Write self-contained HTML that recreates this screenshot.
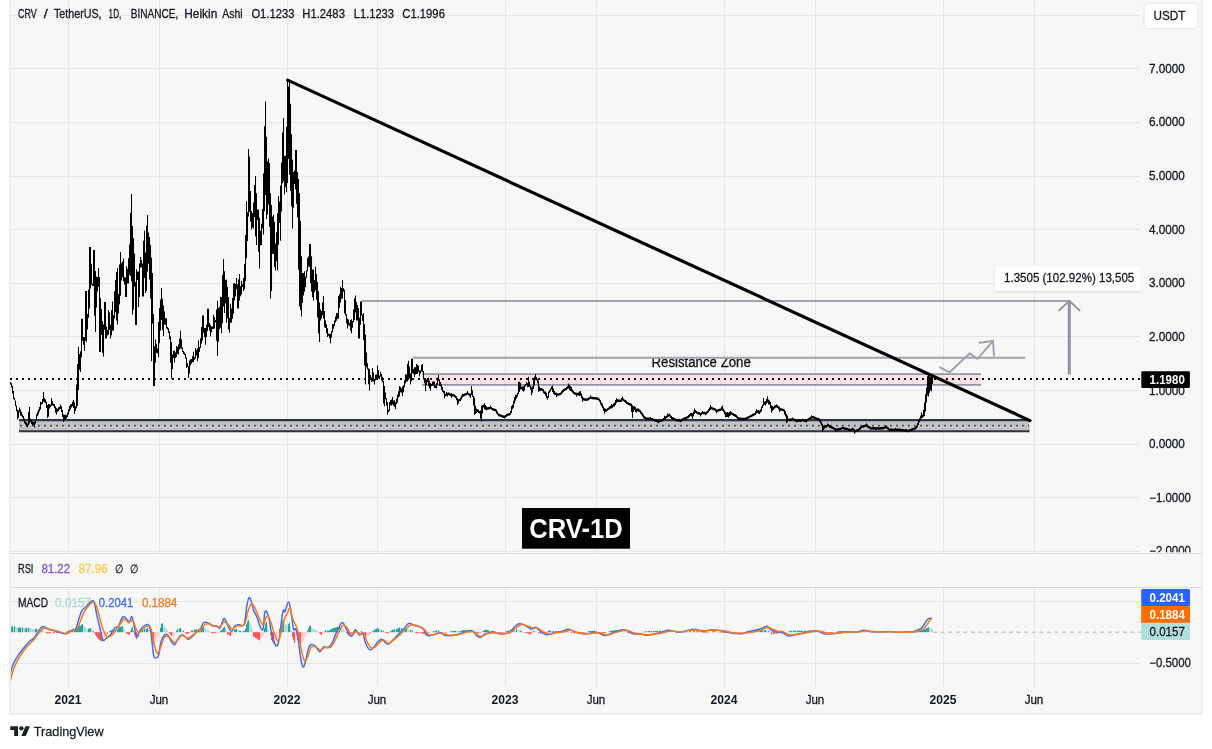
<!DOCTYPE html>
<html><head><meta charset="utf-8"><title>CRV / TetherUS chart</title>
<style>
html,body{margin:0;padding:0;background:#fff;}
body{width:1212px;height:749px;overflow:hidden;font-family:"Liberation Sans",sans-serif;}
svg text{font-family:"Liberation Sans",sans-serif;}
</style></head><body>
<svg width="1212" height="749" viewBox="0 0 1212 749" style="display:block;will-change:transform"><rect x="0" y="0" width="1212" height="749" fill="#ffffff"/>
<rect x="10" y="0" width="1192" height="714" fill="#f7f7f7"/>
<line x1="68.5" y1="0" x2="68.5" y2="553" stroke="#e7e7e7" stroke-width="1"/>
<line x1="68.5" y1="588" x2="68.5" y2="686" stroke="#e7e7e7" stroke-width="1"/>
<line x1="159.5" y1="0" x2="159.5" y2="553" stroke="#e7e7e7" stroke-width="1"/>
<line x1="159.5" y1="588" x2="159.5" y2="686" stroke="#e7e7e7" stroke-width="1"/>
<line x1="287.5" y1="0" x2="287.5" y2="553" stroke="#e7e7e7" stroke-width="1"/>
<line x1="287.5" y1="588" x2="287.5" y2="686" stroke="#e7e7e7" stroke-width="1"/>
<line x1="377.5" y1="0" x2="377.5" y2="553" stroke="#e7e7e7" stroke-width="1"/>
<line x1="377.5" y1="588" x2="377.5" y2="686" stroke="#e7e7e7" stroke-width="1"/>
<line x1="505.5" y1="0" x2="505.5" y2="553" stroke="#e7e7e7" stroke-width="1"/>
<line x1="505.5" y1="588" x2="505.5" y2="686" stroke="#e7e7e7" stroke-width="1"/>
<line x1="596.5" y1="0" x2="596.5" y2="553" stroke="#e7e7e7" stroke-width="1"/>
<line x1="596.5" y1="588" x2="596.5" y2="686" stroke="#e7e7e7" stroke-width="1"/>
<line x1="724.5" y1="0" x2="724.5" y2="553" stroke="#e7e7e7" stroke-width="1"/>
<line x1="724.5" y1="588" x2="724.5" y2="686" stroke="#e7e7e7" stroke-width="1"/>
<line x1="815.5" y1="0" x2="815.5" y2="553" stroke="#e7e7e7" stroke-width="1"/>
<line x1="815.5" y1="588" x2="815.5" y2="686" stroke="#e7e7e7" stroke-width="1"/>
<line x1="943.5" y1="0" x2="943.5" y2="553" stroke="#e7e7e7" stroke-width="1"/>
<line x1="943.5" y1="588" x2="943.5" y2="686" stroke="#e7e7e7" stroke-width="1"/>
<line x1="1034.5" y1="0" x2="1034.5" y2="553" stroke="#e7e7e7" stroke-width="1"/>
<line x1="1034.5" y1="588" x2="1034.5" y2="686" stroke="#e7e7e7" stroke-width="1"/>
<line x1="10" y1="15.5" x2="1140" y2="15.5" stroke="#e7e7e7" stroke-width="1"/>
<line x1="10" y1="68.5" x2="1140" y2="68.5" stroke="#e7e7e7" stroke-width="1"/>
<line x1="10" y1="122.5" x2="1140" y2="122.5" stroke="#e7e7e7" stroke-width="1"/>
<line x1="10" y1="176.5" x2="1140" y2="176.5" stroke="#e7e7e7" stroke-width="1"/>
<line x1="10" y1="229.5" x2="1140" y2="229.5" stroke="#e7e7e7" stroke-width="1"/>
<line x1="10" y1="283.5" x2="1140" y2="283.5" stroke="#e7e7e7" stroke-width="1"/>
<line x1="10" y1="336.5" x2="1140" y2="336.5" stroke="#e7e7e7" stroke-width="1"/>
<line x1="10" y1="390.5" x2="1140" y2="390.5" stroke="#e7e7e7" stroke-width="1"/>
<line x1="10" y1="444.5" x2="1140" y2="444.5" stroke="#e7e7e7" stroke-width="1"/>
<line x1="10" y1="497.5" x2="1140" y2="497.5" stroke="#e7e7e7" stroke-width="1"/>
<line x1="10" y1="551.5" x2="1140" y2="551.5" stroke="#e7e7e7" stroke-width="1"/>
<line x1="10" y1="601.5" x2="1140" y2="601.5" stroke="#e7e7e7" stroke-width="1"/>
<line x1="10" y1="663.5" x2="1140" y2="663.5" stroke="#e7e7e7" stroke-width="1"/>
<line x1="10" y1="553.5" x2="1202" y2="553.5" stroke="#d6d8e2" stroke-width="1.2"/>
<line x1="10" y1="587.5" x2="1202" y2="587.5" stroke="#d6d8e2" stroke-width="1.2"/>
<line x1="10" y1="0" x2="10" y2="714" stroke="#ebecf2" stroke-width="1.6"/>
<line x1="1202" y1="0" x2="1202" y2="714.8" stroke="#ebecf2" stroke-width="1.8"/>
<line x1="9.2" y1="713.9" x2="1202.9" y2="713.9" stroke="#ebecf2" stroke-width="1.8"/>
<rect x="19" y="420" width="1010.5" height="11.5" fill="#c3c3c4"/>
<line x1="19" y1="420.1" x2="1029.5" y2="420.1" stroke="#2f3447" stroke-width="2.2"/>
<line x1="19" y1="431.3" x2="1029.5" y2="431.3" stroke="#2f3447" stroke-width="2"/>
<line x1="20" y1="425.6" x2="1029" y2="425.6" stroke="#4a4d5a" stroke-width="1.8" stroke-dasharray="1.8 4.2"/>
<rect x="422" y="374.2" width="559" height="10.6" fill="#fbe3e5"/>
<line x1="422" y1="374.2" x2="981" y2="374.2" stroke="#9395a6" stroke-width="1.8"/>
<line x1="422" y1="384.8" x2="981" y2="384.8" stroke="#9395a6" stroke-width="1.8"/>
<line x1="361.5" y1="300.9" x2="1070" y2="300.9" stroke="#a0a2b0" stroke-width="2"/>
<line x1="412.7" y1="357.8" x2="1025.3" y2="357.8" stroke="#a0a2b0" stroke-width="2"/>
<clipPath id="rz"><rect x="640" y="358.7" width="130" height="14"/></clipPath>
<text x="651.5" y="366.8" font-size="14" fill="#111" stroke="#111" stroke-width="0.28" font-weight="normal" text-anchor="start" font-family="Liberation Sans, sans-serif" clip-path="url(#rz)" textLength="99.3" lengthAdjust="spacingAndGlyphs">Resistance Zone</text>
<line x1="10" y1="379" x2="1141" y2="379" stroke="#0d0d0d" stroke-width="2" stroke-dasharray="2 4"/>
<polygon points="932.50,377.6 932.50,383.4" fill="#000" stroke="#000" stroke-width="0.25" stroke-linejoin="round"/>
<path d="M10.0 382.1h1.03V384.6h-1.03zM11.0 383.2h1.03V387.6h-1.03zM12.0 386.1h1.03V393.4h-1.03zM13.0 391.0h1.03V399.3h-1.03zM14.0 397.8h1.03V400.3h-1.03zM15.0 400.6h1.03V406.2h-1.03zM16.0 405.5h1.03V411.2h-1.03zM17.0 409.7h1.03V419.4h-1.03zM18.0 410.5h1.03V417.9h-1.03zM19.0 407.6h1.03V412.4h-1.03zM20.0 409.4h1.03V415.5h-1.03zM21.0 412.0h1.03V416.3h-1.03zM22.0 414.4h1.03V417.8h-1.03zM23.0 415.9h1.03V420.5h-1.03zM24.0 418.6h1.03V423.5h-1.03zM25.0 421.4h1.03V424.7h-1.03zM26.0 422.3h1.03V426.4h-1.03zM27.0 423.3h1.03V427.4h-1.03zM28.0 411.8h1.03V425.3h-1.03zM29.0 407.1h1.03V423.4h-1.03zM30.0 418.4h1.03V421.8h-1.03zM31.0 419.9h1.03V424.0h-1.03zM32.0 421.2h1.03V425.2h-1.03zM33.0 421.9h1.03V424.9h-1.03zM34.0 421.6h1.03V427.4h-1.03zM35.0 421.1h1.03V423.6h-1.03zM36.0 414.3h1.03V420.8h-1.03zM37.0 411.8h1.03V416.3h-1.03zM38.0 409.4h1.03V414.6h-1.03zM39.0 406.9h1.03V411.6h-1.03zM40.0 401.8h1.03V409.6h-1.03zM41.0 402.3h1.03V404.8h-1.03zM42.0 399.0h1.03V404.0h-1.03zM43.0 392.1h1.03V401.9h-1.03zM44.0 398.1h1.03V402.3h-1.03zM45.0 399.6h1.03V403.2h-1.03zM46.0 401.7h1.03V408.1h-1.03zM47.0 405.0h1.03V417.9h-1.03zM48.0 404.1h1.03V416.7h-1.03zM49.0 404.1h1.03V408.5h-1.03zM50.0 404.8h1.03V407.3h-1.03zM51.0 398.1h1.03V405.9h-1.03zM52.0 401.1h1.03V405.3h-1.03zM53.0 403.7h1.03V406.2h-1.03zM54.0 404.1h1.03V408.3h-1.03zM55.0 406.4h1.03V412.8h-1.03zM56.0 408.2h1.03V414.4h-1.03zM57.0 408.5h1.03V411.9h-1.03zM58.0 407.3h1.03V410.9h-1.03zM59.0 407.0h1.03V409.5h-1.03zM60.0 404.6h1.03V409.1h-1.03zM61.0 406.2h1.03V412.1h-1.03zM62.0 409.9h1.03V417.0h-1.03zM63.0 414.6h1.03V421.9h-1.03zM64.0 415.0h1.03V419.9h-1.03zM65.0 414.6h1.03V419.6h-1.03zM66.0 415.2h1.03V418.6h-1.03zM67.0 412.4h1.03V417.1h-1.03zM68.0 409.3h1.03V414.6h-1.03zM69.0 406.0h1.03V411.6h-1.03zM70.0 404.5h1.03V409.4h-1.03zM71.0 403.9h1.03V407.4h-1.03zM72.0 401.8h1.03V406.3h-1.03zM73.0 400.1h1.03V407.9h-1.03zM74.0 402.5h1.03V413.9h-1.03zM75.0 406.2h1.03V410.9h-1.03zM76.0 384.4h1.03V408.2h-1.03zM77.0 364.0h1.03V405.7h-1.03zM78.0 346.8h1.03V390.1h-1.03zM79.0 354.1h1.03V369.8h-1.03zM80.0 351.2h1.03V372.0h-1.03zM81.0 318.8h1.03V357.2h-1.03zM82.0 318.8h1.03V340.7h-1.03zM83.0 336.9h1.03V344.8h-1.03zM84.0 337.3h1.03V350.9h-1.03zM85.0 291.1h1.03V340.7h-1.03zM86.0 291.1h1.03V341.7h-1.03zM87.0 314.0h1.03V329.6h-1.03zM88.0 289.4h1.03V317.7h-1.03zM89.0 247.1h1.03V308.4h-1.03zM90.0 247.1h1.03V288.5h-1.03zM91.0 263.7h1.03V284.6h-1.03zM92.0 283.5h1.03V286.1h-1.03zM93.0 250.1h1.03V286.1h-1.03zM94.0 250.1h1.03V315.8h-1.03zM95.0 271.0h1.03V331.9h-1.03zM96.0 276.6h1.03V307.6h-1.03zM97.0 276.9h1.03V291.5h-1.03zM98.0 268.1h1.03V286.7h-1.03zM99.0 277.0h1.03V351.9h-1.03zM100.0 298.1h1.03V351.9h-1.03zM101.0 309.0h1.03V335.1h-1.03zM102.0 320.9h1.03V352.8h-1.03zM103.0 324.4h1.03V356.8h-1.03zM104.0 302.1h1.03V329.7h-1.03zM105.0 302.1h1.03V338.7h-1.03zM106.0 326.7h1.03V338.3h-1.03zM107.0 330.0h1.03V335.6h-1.03zM108.0 310.1h1.03V334.4h-1.03zM109.0 312.4h1.03V330.1h-1.03zM110.0 324.7h1.03V338.6h-1.03zM111.0 310.2h1.03V335.3h-1.03zM112.0 301.6h1.03V330.7h-1.03zM113.0 315.3h1.03V330.6h-1.03zM114.0 291.2h1.03V318.6h-1.03zM115.0 280.1h1.03V312.3h-1.03zM116.0 272.1h1.03V320.5h-1.03zM117.0 268.1h1.03V324.6h-1.03zM118.0 294.1h1.03V313.5h-1.03zM119.0 264.4h1.03V304.5h-1.03zM120.0 252.1h1.03V295.7h-1.03zM121.0 263.3h1.03V280.4h-1.03zM122.0 261.6h1.03V277.3h-1.03zM123.0 258.5h1.03V281.3h-1.03zM124.0 277.3h1.03V284.4h-1.03zM125.0 277.2h1.03V296.9h-1.03zM126.0 266.3h1.03V296.9h-1.03zM127.0 268.8h1.03V283.4h-1.03zM128.0 258.3h1.03V283.4h-1.03zM129.0 244.4h1.03V274.7h-1.03zM130.0 212.7h1.03V275.9h-1.03zM131.0 194.1h1.03V281.3h-1.03zM132.0 226.1h1.03V314.6h-1.03zM133.0 238.2h1.03V309.8h-1.03zM134.0 253.6h1.03V286.6h-1.03zM135.0 281.9h1.03V324.9h-1.03zM136.0 269.3h1.03V324.9h-1.03zM137.0 271.7h1.03V279.9h-1.03zM138.0 271.6h1.03V307.0h-1.03zM139.0 263.4h1.03V297.0h-1.03zM140.0 256.9h1.03V267.4h-1.03zM141.0 260.0h1.03V267.2h-1.03zM142.0 263.4h1.03V296.6h-1.03zM143.0 240.8h1.03V296.6h-1.03zM144.0 230.8h1.03V278.0h-1.03zM145.0 252.4h1.03V292.9h-1.03zM146.0 225.8h1.03V291.0h-1.03zM147.0 215.1h1.03V271.6h-1.03zM148.0 232.4h1.03V263.7h-1.03zM149.0 237.0h1.03V279.6h-1.03zM150.0 244.7h1.03V298.5h-1.03zM151.0 257.6h1.03V361.3h-1.03zM152.0 273.1h1.03V323.4h-1.03zM153.0 313.9h1.03V385.9h-1.03zM154.0 346.2h1.03V385.9h-1.03zM155.0 339.6h1.03V362.7h-1.03zM156.0 343.7h1.03V352.8h-1.03zM157.0 348.4h1.03V353.3h-1.03zM158.0 321.9h1.03V357.3h-1.03zM159.0 307.9h1.03V343.2h-1.03zM160.0 299.5h1.03V330.5h-1.03zM161.0 288.1h1.03V320.1h-1.03zM162.0 298.7h1.03V330.0h-1.03zM163.0 305.4h1.03V335.9h-1.03zM164.0 311.6h1.03V324.8h-1.03zM165.0 318.1h1.03V324.8h-1.03zM166.0 318.6h1.03V328.4h-1.03zM167.0 327.1h1.03V329.6h-1.03zM168.0 328.2h1.03V332.9h-1.03zM169.0 331.2h1.03V339.3h-1.03zM170.0 336.6h1.03V362.7h-1.03zM171.0 342.0h1.03V378.8h-1.03zM172.0 354.5h1.03V369.1h-1.03zM173.0 350.9h1.03V358.1h-1.03zM174.0 350.5h1.03V362.6h-1.03zM175.0 352.5h1.03V358.0h-1.03zM176.0 346.0h1.03V356.9h-1.03zM177.0 347.0h1.03V353.7h-1.03zM178.0 344.6h1.03V354.6h-1.03zM179.0 338.5h1.03V349.5h-1.03zM180.0 330.8h1.03V348.5h-1.03zM181.0 339.5h1.03V348.7h-1.03zM182.0 347.2h1.03V351.9h-1.03zM183.0 350.9h1.03V354.0h-1.03zM184.0 352.4h1.03V354.9h-1.03zM185.0 353.9h1.03V358.4h-1.03zM186.0 357.5h1.03V368.0h-1.03zM187.0 363.2h1.03V367.1h-1.03zM188.0 366.1h1.03V377.9h-1.03zM189.0 360.6h1.03V373.8h-1.03zM190.0 359.2h1.03V365.2h-1.03zM191.0 358.9h1.03V363.6h-1.03zM192.0 356.3h1.03V362.3h-1.03zM193.0 351.8h1.03V361.9h-1.03zM194.0 357.2h1.03V359.7h-1.03zM195.0 348.1h1.03V358.8h-1.03zM196.0 350.0h1.03V355.4h-1.03zM197.0 348.3h1.03V361.3h-1.03zM198.0 340.4h1.03V358.0h-1.03zM199.0 347.0h1.03V351.9h-1.03zM200.0 338.3h1.03V348.0h-1.03zM201.0 327.0h1.03V343.4h-1.03zM202.0 315.4h1.03V340.6h-1.03zM203.0 315.4h1.03V332.7h-1.03zM204.0 328.1h1.03V337.3h-1.03zM205.0 328.1h1.03V344.8h-1.03zM206.0 324.7h1.03V336.9h-1.03zM207.0 308.8h1.03V330.9h-1.03zM208.0 308.8h1.03V327.0h-1.03zM209.0 323.0h1.03V330.8h-1.03zM210.0 325.1h1.03V336.6h-1.03zM211.0 326.6h1.03V332.5h-1.03zM212.0 326.5h1.03V329.0h-1.03zM213.0 314.8h1.03V328.9h-1.03zM214.0 316.9h1.03V328.5h-1.03zM215.0 320.0h1.03V322.5h-1.03zM216.0 309.6h1.03V340.7h-1.03zM217.0 300.8h1.03V355.9h-1.03zM218.0 308.0h1.03V341.7h-1.03zM219.0 306.7h1.03V329.2h-1.03zM220.0 296.7h1.03V327.8h-1.03zM221.0 297.1h1.03V333.3h-1.03zM222.0 275.1h1.03V323.3h-1.03zM223.0 258.9h1.03V306.6h-1.03zM224.0 271.3h1.03V313.0h-1.03zM225.0 280.0h1.03V303.5h-1.03zM226.0 279.4h1.03V322.7h-1.03zM227.0 287.0h1.03V318.5h-1.03zM228.0 297.0h1.03V329.6h-1.03zM229.0 318.0h1.03V332.6h-1.03zM230.0 303.8h1.03V322.7h-1.03zM231.0 308.4h1.03V322.6h-1.03zM232.0 297.9h1.03V318.7h-1.03zM233.0 283.5h1.03V313.6h-1.03zM234.0 283.0h1.03V300.6h-1.03zM235.0 283.9h1.03V296.2h-1.03zM236.0 278.1h1.03V289.3h-1.03zM237.0 284.3h1.03V308.6h-1.03zM238.0 279.3h1.03V308.6h-1.03zM239.0 274.1h1.03V300.6h-1.03zM240.0 286.2h1.03V296.3h-1.03zM241.0 280.8h1.03V294.4h-1.03zM242.0 284.2h1.03V287.1h-1.03zM243.0 277.9h1.03V291.1h-1.03zM244.0 264.1h1.03V289.3h-1.03zM245.0 235.1h1.03V281.0h-1.03zM246.0 201.2h1.03V258.2h-1.03zM247.0 212.2h1.03V241.1h-1.03zM248.0 148.9h1.03V216.6h-1.03zM249.0 156.5h1.03V212.0h-1.03zM250.0 191.0h1.03V221.6h-1.03zM251.0 211.1h1.03V229.6h-1.03zM252.0 213.1h1.03V227.6h-1.03zM253.0 202.4h1.03V228.6h-1.03zM254.0 185.1h1.03V217.1h-1.03zM255.0 176.1h1.03V236.5h-1.03zM256.0 193.2h1.03V244.9h-1.03zM257.0 209.4h1.03V220.1h-1.03zM258.0 209.4h1.03V251.7h-1.03zM259.0 217.7h1.03V268.6h-1.03zM260.0 230.7h1.03V245.4h-1.03zM261.0 223.8h1.03V244.9h-1.03zM262.0 209.0h1.03V228.6h-1.03zM263.0 173.6h1.03V234.4h-1.03zM264.0 126.2h1.03V211.3h-1.03zM265.0 101.5h1.03V194.9h-1.03zM266.0 136.8h1.03V218.9h-1.03zM267.0 161.2h1.03V214.4h-1.03zM268.0 158.5h1.03V204.4h-1.03zM269.0 163.0h1.03V226.7h-1.03zM270.0 193.2h1.03V298.6h-1.03zM271.0 205.0h1.03V291.0h-1.03zM272.0 216.6h1.03V253.8h-1.03zM273.0 214.8h1.03V254.1h-1.03zM274.0 221.8h1.03V266.9h-1.03zM275.0 243.4h1.03V270.6h-1.03zM276.0 232.2h1.03V261.2h-1.03zM277.0 213.3h1.03V270.6h-1.03zM278.0 195.9h1.03V244.8h-1.03zM279.0 201.6h1.03V222.9h-1.03zM280.0 185.5h1.03V240.8h-1.03zM281.0 162.4h1.03V211.6h-1.03zM282.0 132.5h1.03V183.2h-1.03zM283.0 118.0h1.03V181.3h-1.03zM284.0 155.7h1.03V194.6h-1.03zM285.0 155.7h1.03V186.9h-1.03zM286.0 126.7h1.03V192.2h-1.03zM287.0 80.0h1.03V182.9h-1.03zM288.0 86.6h1.03V159.1h-1.03zM289.0 80.0h1.03V174.8h-1.03zM290.0 103.7h1.03V190.9h-1.03zM291.0 134.3h1.03V206.6h-1.03zM292.0 159.8h1.03V228.8h-1.03zM293.0 172.0h1.03V207.8h-1.03zM294.0 170.5h1.03V183.9h-1.03zM295.0 150.1h1.03V189.6h-1.03zM296.0 150.1h1.03V203.7h-1.03zM297.0 172.3h1.03V217.5h-1.03zM298.0 179.0h1.03V269.7h-1.03zM299.0 193.2h1.03V306.6h-1.03zM300.0 221.1h1.03V310.0h-1.03zM301.0 256.2h1.03V316.6h-1.03zM302.0 273.0h1.03V303.0h-1.03zM303.0 273.0h1.03V295.4h-1.03zM304.0 271.2h1.03V291.8h-1.03zM305.0 276.7h1.03V287.2h-1.03zM306.0 270.2h1.03V277.7h-1.03zM307.0 257.9h1.03V271.2h-1.03zM308.0 256.4h1.03V266.5h-1.03zM309.0 244.1h1.03V267.0h-1.03zM310.0 244.1h1.03V283.1h-1.03zM311.0 256.3h1.03V291.5h-1.03zM312.0 269.6h1.03V297.3h-1.03zM313.0 269.6h1.03V300.6h-1.03zM314.0 280.1h1.03V292.2h-1.03zM315.0 266.8h1.03V290.3h-1.03zM316.0 273.9h1.03V299.7h-1.03zM317.0 282.1h1.03V317.6h-1.03zM318.0 291.2h1.03V333.6h-1.03zM319.0 302.6h1.03V341.9h-1.03zM320.0 309.6h1.03V320.5h-1.03zM321.0 310.9h1.03V318.5h-1.03zM322.0 302.5h1.03V315.2h-1.03zM323.0 296.1h1.03V318.6h-1.03zM324.0 311.0h1.03V327.2h-1.03zM325.0 320.2h1.03V328.0h-1.03zM326.0 323.9h1.03V333.1h-1.03zM327.0 328.3h1.03V337.0h-1.03zM328.0 333.4h1.03V335.9h-1.03zM329.0 333.7h1.03V338.3h-1.03zM330.0 333.7h1.03V343.3h-1.03zM331.0 331.0h1.03V337.6h-1.03zM332.0 324.1h1.03V332.3h-1.03zM333.0 323.9h1.03V328.7h-1.03zM334.0 320.5h1.03V326.3h-1.03zM335.0 316.5h1.03V322.5h-1.03zM336.0 312.9h1.03V320.7h-1.03zM337.0 312.9h1.03V318.8h-1.03zM338.0 295.9h1.03V318.6h-1.03zM339.0 293.9h1.03V307.8h-1.03zM340.0 286.9h1.03V302.5h-1.03zM341.0 288.1h1.03V298.7h-1.03zM342.0 280.1h1.03V298.7h-1.03zM343.0 288.2h1.03V291.5h-1.03zM344.0 289.8h1.03V313.6h-1.03zM345.0 300.3h1.03V315.3h-1.03zM346.0 314.3h1.03V323.4h-1.03zM347.0 318.8h1.03V328.6h-1.03zM348.0 319.6h1.03V325.3h-1.03zM349.0 322.7h1.03V326.1h-1.03zM350.0 319.9h1.03V330.8h-1.03zM351.0 319.3h1.03V333.3h-1.03zM352.0 320.9h1.03V327.8h-1.03zM353.0 309.6h1.03V321.9h-1.03zM354.0 298.6h1.03V319.9h-1.03zM355.0 295.4h1.03V312.6h-1.03zM356.0 301.9h1.03V320.6h-1.03zM357.0 305.1h1.03V320.6h-1.03zM358.0 308.1h1.03V338.6h-1.03zM359.0 317.8h1.03V338.6h-1.03zM360.0 301.4h1.03V324.8h-1.03zM361.0 301.4h1.03V315.5h-1.03zM362.0 314.5h1.03V320.9h-1.03zM363.0 312.9h1.03V339.9h-1.03zM364.0 324.3h1.03V365.6h-1.03zM365.0 334.5h1.03V384.6h-1.03zM366.0 352.5h1.03V367.3h-1.03zM367.0 363.2h1.03V369.5h-1.03zM368.0 368.3h1.03V384.3h-1.03zM369.0 369.1h1.03V390.6h-1.03zM370.0 375.0h1.03V378.4h-1.03zM371.0 377.4h1.03V381.9h-1.03zM372.0 368.1h1.03V381.2h-1.03zM373.0 372.5h1.03V381.6h-1.03zM374.0 379.1h1.03V384.6h-1.03zM375.0 374.8h1.03V380.3h-1.03zM376.0 374.4h1.03V378.4h-1.03zM377.0 365.4h1.03V378.2h-1.03zM378.0 369.9h1.03V378.6h-1.03zM379.0 375.4h1.03V379.2h-1.03zM380.0 372.1h1.03V376.4h-1.03zM381.0 374.0h1.03V380.4h-1.03zM382.0 376.7h1.03V382.3h-1.03zM383.0 380.9h1.03V403.5h-1.03zM384.0 386.1h1.03V406.2h-1.03zM385.0 392.6h1.03V399.3h-1.03zM386.0 398.3h1.03V405.4h-1.03zM387.0 402.0h1.03V414.8h-1.03zM388.0 409.7h1.03V412.2h-1.03zM389.0 402.1h1.03V411.1h-1.03zM390.0 400.2h1.03V405.2h-1.03zM391.0 399.6h1.03V405.7h-1.03zM392.0 397.0h1.03V404.6h-1.03zM393.0 400.6h1.03V405.7h-1.03zM394.0 400.3h1.03V407.0h-1.03zM395.0 402.2h1.03V409.3h-1.03zM396.0 398.8h1.03V403.9h-1.03zM397.0 394.4h1.03V402.6h-1.03zM398.0 391.1h1.03V397.5h-1.03zM399.0 386.1h1.03V396.6h-1.03zM400.0 387.1h1.03V392.3h-1.03zM401.0 388.6h1.03V392.7h-1.03zM402.0 386.6h1.03V395.9h-1.03zM403.0 385.3h1.03V392.3h-1.03zM404.0 380.2h1.03V387.2h-1.03zM405.0 374.6h1.03V383.4h-1.03zM406.0 374.6h1.03V381.5h-1.03zM407.0 363.7h1.03V381.5h-1.03zM408.0 360.8h1.03V379.9h-1.03zM409.0 366.4h1.03V378.5h-1.03zM410.0 373.6h1.03V384.6h-1.03zM411.0 358.8h1.03V381.2h-1.03zM412.0 358.8h1.03V373.6h-1.03zM413.0 368.9h1.03V373.8h-1.03zM414.0 367.2h1.03V377.3h-1.03zM415.0 367.2h1.03V374.5h-1.03zM416.0 364.1h1.03V374.0h-1.03zM417.0 364.8h1.03V373.9h-1.03zM418.0 365.8h1.03V371.8h-1.03zM419.0 370.3h1.03V376.6h-1.03zM420.0 370.5h1.03V373.7h-1.03zM421.0 365.1h1.03V371.6h-1.03zM422.0 364.1h1.03V371.9h-1.03zM423.0 370.9h1.03V379.4h-1.03zM424.0 378.2h1.03V383.3h-1.03zM425.0 379.7h1.03V391.3h-1.03zM426.0 379.5h1.03V385.2h-1.03zM427.0 378.1h1.03V382.1h-1.03zM428.0 377.4h1.03V386.0h-1.03zM429.0 380.5h1.03V388.3h-1.03zM430.0 383.3h1.03V390.6h-1.03zM431.0 383.7h1.03V386.2h-1.03zM432.0 381.4h1.03V385.7h-1.03zM433.0 381.6h1.03V385.7h-1.03zM434.0 381.6h1.03V387.9h-1.03zM435.0 385.2h1.03V387.7h-1.03zM436.0 382.9h1.03V388.6h-1.03zM437.0 377.4h1.03V385.0h-1.03zM438.0 375.1h1.03V381.1h-1.03zM439.0 379.2h1.03V385.8h-1.03zM440.0 382.1h1.03V386.5h-1.03zM441.0 384.4h1.03V389.9h-1.03zM442.0 386.9h1.03V391.7h-1.03zM443.0 390.4h1.03V393.3h-1.03zM444.0 391.1h1.03V398.6h-1.03zM445.0 393.7h1.03V396.3h-1.03zM446.0 392.1h1.03V395.9h-1.03zM447.0 392.7h1.03V396.5h-1.03zM448.0 392.5h1.03V395.0h-1.03zM449.0 392.7h1.03V395.7h-1.03zM450.0 393.5h1.03V396.0h-1.03zM451.0 393.1h1.03V397.8h-1.03zM452.0 394.0h1.03V396.5h-1.03zM453.0 394.0h1.03V396.5h-1.03zM454.0 394.4h1.03V397.3h-1.03zM455.0 395.4h1.03V398.1h-1.03zM456.0 396.2h1.03V400.2h-1.03zM457.0 398.0h1.03V405.1h-1.03zM458.0 399.2h1.03V403.4h-1.03zM459.0 398.8h1.03V401.3h-1.03zM460.0 397.5h1.03V400.9h-1.03zM461.0 395.6h1.03V399.4h-1.03zM462.0 393.8h1.03V397.5h-1.03zM463.0 394.1h1.03V396.6h-1.03zM464.0 393.6h1.03V396.2h-1.03zM465.0 393.1h1.03V395.6h-1.03zM466.0 392.8h1.03V395.3h-1.03zM467.0 391.0h1.03V394.8h-1.03zM468.0 392.8h1.03V395.3h-1.03zM469.0 393.4h1.03V396.4h-1.03zM470.0 393.4h1.03V397.8h-1.03zM471.0 386.1h1.03V395.1h-1.03zM472.0 390.3h1.03V397.0h-1.03zM473.0 396.0h1.03V405.4h-1.03zM474.0 397.5h1.03V414.8h-1.03zM475.0 405.8h1.03V414.0h-1.03zM476.0 408.4h1.03V413.0h-1.03zM477.0 409.2h1.03V411.7h-1.03zM478.0 409.6h1.03V412.9h-1.03zM479.0 411.0h1.03V413.5h-1.03zM480.0 410.4h1.03V418.6h-1.03zM481.0 405.7h1.03V421.3h-1.03zM482.0 405.3h1.03V413.4h-1.03zM483.0 404.4h1.03V407.5h-1.03zM484.0 403.0h1.03V409.4h-1.03zM485.0 405.1h1.03V409.7h-1.03zM486.0 406.2h1.03V410.2h-1.03zM487.0 407.2h1.03V409.7h-1.03zM488.0 407.0h1.03V409.5h-1.03zM489.0 406.9h1.03V409.4h-1.03zM490.0 405.6h1.03V409.1h-1.03zM491.0 406.9h1.03V409.8h-1.03zM492.0 407.9h1.03V410.4h-1.03zM493.0 408.2h1.03V410.7h-1.03zM494.0 408.5h1.03V411.0h-1.03zM495.0 409.0h1.03V411.5h-1.03zM496.0 409.6h1.03V413.5h-1.03zM497.0 411.6h1.03V415.1h-1.03zM498.0 413.2h1.03V416.2h-1.03zM499.0 414.1h1.03V416.6h-1.03zM500.0 414.3h1.03V416.8h-1.03zM501.0 414.8h1.03V417.3h-1.03zM502.0 415.0h1.03V417.5h-1.03zM503.0 415.4h1.03V417.9h-1.03zM504.0 415.4h1.03V418.4h-1.03zM505.0 414.9h1.03V417.4h-1.03zM506.0 414.1h1.03V416.9h-1.03zM507.0 413.6h1.03V416.1h-1.03zM508.0 413.3h1.03V415.8h-1.03zM509.0 412.9h1.03V415.4h-1.03zM510.0 411.0h1.03V414.8h-1.03zM511.0 406.0h1.03V412.9h-1.03zM512.0 404.8h1.03V409.2h-1.03zM513.0 400.8h1.03V407.7h-1.03zM514.0 397.0h1.03V403.6h-1.03zM515.0 394.9h1.03V400.7h-1.03zM516.0 394.8h1.03V398.5h-1.03zM517.0 392.8h1.03V396.7h-1.03zM518.0 381.4h1.03V393.9h-1.03zM519.0 381.9h1.03V391.7h-1.03zM520.0 382.7h1.03V389.6h-1.03zM521.0 386.8h1.03V389.3h-1.03zM522.0 386.6h1.03V390.8h-1.03zM523.0 386.2h1.03V391.8h-1.03zM524.0 385.0h1.03V390.5h-1.03zM525.0 383.9h1.03V386.5h-1.03zM526.0 382.1h1.03V385.0h-1.03zM527.0 383.3h1.03V387.0h-1.03zM528.0 376.8h1.03V387.0h-1.03zM529.0 381.5h1.03V386.8h-1.03zM530.0 385.6h1.03V389.6h-1.03zM531.0 387.3h1.03V395.3h-1.03zM532.0 386.2h1.03V392.8h-1.03zM533.0 380.3h1.03V389.1h-1.03zM534.0 376.6h1.03V385.6h-1.03zM535.0 374.1h1.03V380.0h-1.03zM536.0 377.0h1.03V380.3h-1.03zM537.0 379.3h1.03V383.3h-1.03zM538.0 380.7h1.03V391.8h-1.03zM539.0 386.4h1.03V391.1h-1.03zM540.0 387.9h1.03V391.3h-1.03zM541.0 388.1h1.03V390.6h-1.03zM542.0 388.6h1.03V391.2h-1.03zM543.0 389.3h1.03V393.2h-1.03zM544.0 391.2h1.03V394.1h-1.03zM545.0 391.6h1.03V395.9h-1.03zM546.0 392.8h1.03V398.1h-1.03zM547.0 396.1h1.03V399.8h-1.03zM548.0 391.5h1.03V397.7h-1.03zM549.0 390.2h1.03V392.7h-1.03zM550.0 388.4h1.03V391.5h-1.03zM551.0 386.5h1.03V389.4h-1.03zM552.0 385.6h1.03V392.0h-1.03zM553.0 388.6h1.03V394.1h-1.03zM554.0 391.1h1.03V394.9h-1.03zM555.0 392.6h1.03V395.1h-1.03zM556.0 392.8h1.03V397.1h-1.03zM557.0 393.3h1.03V395.8h-1.03zM558.0 393.2h1.03V395.7h-1.03zM559.0 393.1h1.03V395.6h-1.03zM560.0 392.6h1.03V395.1h-1.03zM561.0 391.2h1.03V394.6h-1.03zM562.0 390.1h1.03V393.1h-1.03zM563.0 389.1h1.03V392.0h-1.03zM564.0 388.6h1.03V391.1h-1.03zM565.0 388.1h1.03V390.6h-1.03zM566.0 387.1h1.03V390.0h-1.03zM567.0 385.9h1.03V389.0h-1.03zM568.0 383.6h1.03V388.5h-1.03zM569.0 385.0h1.03V390.3h-1.03zM570.0 386.2h1.03V390.9h-1.03zM571.0 387.1h1.03V391.4h-1.03zM572.0 389.5h1.03V392.7h-1.03zM573.0 390.8h1.03V394.0h-1.03zM574.0 392.0h1.03V394.5h-1.03zM575.0 392.4h1.03V394.9h-1.03zM576.0 392.8h1.03V396.4h-1.03zM577.0 392.8h1.03V395.3h-1.03zM578.0 392.6h1.03V395.7h-1.03zM579.0 391.6h1.03V395.9h-1.03zM580.0 391.0h1.03V395.4h-1.03zM581.0 393.5h1.03V398.2h-1.03zM582.0 396.3h1.03V401.8h-1.03zM583.0 397.8h1.03V400.5h-1.03zM584.0 398.2h1.03V400.7h-1.03zM585.0 398.2h1.03V400.7h-1.03zM586.0 398.4h1.03V400.9h-1.03zM587.0 398.2h1.03V400.7h-1.03zM588.0 397.5h1.03V400.2h-1.03zM589.0 396.9h1.03V399.4h-1.03zM590.0 395.6h1.03V398.9h-1.03zM591.0 396.5h1.03V399.0h-1.03zM592.0 396.7h1.03V399.2h-1.03zM593.0 396.9h1.03V399.4h-1.03zM594.0 397.0h1.03V399.5h-1.03zM595.0 397.0h1.03V399.5h-1.03zM596.0 397.3h1.03V399.8h-1.03zM597.0 397.4h1.03V399.9h-1.03zM598.0 397.7h1.03V400.6h-1.03zM599.0 398.7h1.03V402.1h-1.03zM600.0 400.2h1.03V404.4h-1.03zM601.0 402.5h1.03V406.3h-1.03zM602.0 403.8h1.03V408.3h-1.03zM603.0 406.4h1.03V411.1h-1.03zM604.0 408.2h1.03V413.8h-1.03zM605.0 408.6h1.03V411.9h-1.03zM606.0 408.9h1.03V411.8h-1.03zM607.0 408.2h1.03V410.8h-1.03zM608.0 407.4h1.03V410.1h-1.03zM609.0 406.3h1.03V409.3h-1.03zM610.0 405.7h1.03V408.6h-1.03zM611.0 404.0h1.03V408.5h-1.03zM612.0 404.8h1.03V408.0h-1.03zM613.0 403.4h1.03V406.8h-1.03zM614.0 402.6h1.03V406.5h-1.03zM615.0 399.9h1.03V404.9h-1.03zM616.0 398.3h1.03V403.1h-1.03zM617.0 399.2h1.03V402.0h-1.03zM618.0 399.6h1.03V402.1h-1.03zM619.0 399.6h1.03V402.1h-1.03zM620.0 399.5h1.03V402.0h-1.03zM621.0 398.0h1.03V401.7h-1.03zM622.0 396.6h1.03V400.4h-1.03zM623.0 398.5h1.03V401.3h-1.03zM624.0 399.4h1.03V401.9h-1.03zM625.0 400.0h1.03V402.7h-1.03zM626.0 400.8h1.03V403.9h-1.03zM627.0 402.0h1.03V404.5h-1.03zM628.0 402.5h1.03V405.1h-1.03zM629.0 403.0h1.03V405.5h-1.03zM630.0 403.3h1.03V405.8h-1.03zM631.0 403.8h1.03V412.1h-1.03zM632.0 405.3h1.03V417.9h-1.03zM633.0 406.3h1.03V412.1h-1.03zM634.0 406.2h1.03V409.9h-1.03zM635.0 407.1h1.03V412.1h-1.03zM636.0 408.4h1.03V412.7h-1.03zM637.0 408.5h1.03V411.2h-1.03zM638.0 408.5h1.03V411.5h-1.03zM639.0 409.6h1.03V412.2h-1.03zM640.0 410.3h1.03V413.7h-1.03zM641.0 411.8h1.03V414.7h-1.03zM642.0 412.8h1.03V416.5h-1.03zM643.0 414.6h1.03V418.2h-1.03zM644.0 416.2h1.03V418.7h-1.03zM645.0 416.8h1.03V419.3h-1.03zM646.0 417.4h1.03V420.7h-1.03zM647.0 417.5h1.03V420.0h-1.03zM648.0 417.6h1.03V420.1h-1.03zM649.0 417.5h1.03V420.0h-1.03zM650.0 417.0h1.03V419.9h-1.03zM651.0 417.9h1.03V420.4h-1.03zM652.0 418.1h1.03V420.6h-1.03zM653.0 418.5h1.03V421.1h-1.03zM654.0 419.0h1.03V421.5h-1.03zM655.0 419.1h1.03V421.6h-1.03zM656.0 419.4h1.03V422.0h-1.03zM657.0 419.9h1.03V422.4h-1.03zM658.0 420.3h1.03V423.2h-1.03zM659.0 419.8h1.03V422.3h-1.03zM660.0 419.6h1.03V422.1h-1.03zM661.0 419.3h1.03V421.8h-1.03zM662.0 418.7h1.03V421.2h-1.03zM663.0 418.1h1.03V420.7h-1.03zM664.0 415.8h1.03V420.1h-1.03zM665.0 416.3h1.03V419.5h-1.03zM666.0 415.7h1.03V418.2h-1.03zM667.0 413.6h1.03V417.6h-1.03zM668.0 414.2h1.03V416.7h-1.03zM669.0 413.6h1.03V416.6h-1.03zM670.0 414.7h1.03V417.9h-1.03zM671.0 416.0h1.03V419.0h-1.03zM672.0 417.0h1.03V419.5h-1.03zM673.0 417.5h1.03V420.1h-1.03zM674.0 418.1h1.03V420.6h-1.03zM675.0 418.5h1.03V421.0h-1.03zM676.0 418.8h1.03V421.3h-1.03zM677.0 418.9h1.03V421.4h-1.03zM678.0 419.1h1.03V421.6h-1.03zM679.0 419.3h1.03V421.8h-1.03zM680.0 419.5h1.03V422.2h-1.03zM681.0 418.7h1.03V421.4h-1.03zM682.0 418.2h1.03V420.7h-1.03zM683.0 417.7h1.03V420.2h-1.03zM684.0 417.3h1.03V419.8h-1.03zM685.0 417.0h1.03V419.5h-1.03zM686.0 416.6h1.03V419.1h-1.03zM687.0 416.1h1.03V418.6h-1.03zM688.0 415.0h1.03V418.0h-1.03zM689.0 413.9h1.03V416.9h-1.03zM690.0 413.0h1.03V415.8h-1.03zM691.0 413.0h1.03V416.5h-1.03zM692.0 413.3h1.03V419.3h-1.03zM693.0 411.4h1.03V416.2h-1.03zM694.0 408.4h1.03V414.0h-1.03zM695.0 409.9h1.03V412.9h-1.03zM696.0 411.0h1.03V413.6h-1.03zM697.0 411.7h1.03V414.2h-1.03zM698.0 412.0h1.03V414.5h-1.03zM699.0 412.3h1.03V414.8h-1.03zM700.0 412.8h1.03V416.4h-1.03zM701.0 412.2h1.03V415.1h-1.03zM702.0 411.0h1.03V414.1h-1.03zM703.0 411.8h1.03V414.3h-1.03zM704.0 411.8h1.03V414.3h-1.03zM705.0 412.2h1.03V415.2h-1.03zM706.0 411.4h1.03V414.4h-1.03zM707.0 410.7h1.03V413.3h-1.03zM708.0 409.0h1.03V412.6h-1.03zM709.0 407.4h1.03V411.0h-1.03zM710.0 405.0h1.03V409.9h-1.03zM711.0 406.8h1.03V409.3h-1.03zM712.0 407.3h1.03V409.8h-1.03zM713.0 407.7h1.03V410.2h-1.03zM714.0 408.1h1.03V410.6h-1.03zM715.0 408.6h1.03V411.4h-1.03zM716.0 409.5h1.03V413.2h-1.03zM717.0 409.4h1.03V411.9h-1.03zM718.0 409.1h1.03V411.6h-1.03zM719.0 408.8h1.03V411.3h-1.03zM720.0 408.4h1.03V410.9h-1.03zM721.0 406.7h1.03V410.3h-1.03zM722.0 405.6h1.03V410.7h-1.03zM723.0 408.7h1.03V411.7h-1.03zM724.0 410.3h1.03V414.3h-1.03zM725.0 412.0h1.03V417.3h-1.03zM726.0 412.4h1.03V417.1h-1.03zM727.0 411.9h1.03V417.0h-1.03zM728.0 412.7h1.03V417.8h-1.03zM729.0 412.1h1.03V416.2h-1.03zM730.0 411.0h1.03V415.5h-1.03zM731.0 412.2h1.03V414.7h-1.03zM732.0 412.8h1.03V415.3h-1.03zM733.0 413.3h1.03V416.0h-1.03zM734.0 413.9h1.03V416.4h-1.03zM735.0 414.3h1.03V416.9h-1.03zM736.0 415.0h1.03V418.1h-1.03zM737.0 416.2h1.03V418.9h-1.03zM738.0 417.0h1.03V421.2h-1.03zM739.0 417.4h1.03V419.9h-1.03zM740.0 417.5h1.03V420.0h-1.03zM741.0 417.8h1.03V420.3h-1.03zM742.0 417.8h1.03V420.3h-1.03zM743.0 417.8h1.03V420.3h-1.03zM744.0 417.7h1.03V420.2h-1.03zM745.0 417.5h1.03V420.0h-1.03zM746.0 417.2h1.03V419.7h-1.03zM747.0 416.5h1.03V419.3h-1.03zM748.0 416.1h1.03V418.6h-1.03zM749.0 415.7h1.03V418.2h-1.03zM750.0 415.1h1.03V417.6h-1.03zM751.0 414.5h1.03V417.0h-1.03zM752.0 413.8h1.03V416.5h-1.03zM753.0 413.4h1.03V415.9h-1.03zM754.0 413.0h1.03V415.5h-1.03zM755.0 411.2h1.03V415.1h-1.03zM756.0 409.0h1.03V413.6h-1.03zM757.0 410.2h1.03V413.0h-1.03zM758.0 410.0h1.03V413.7h-1.03zM759.0 410.4h1.03V413.9h-1.03zM760.0 409.2h1.03V412.6h-1.03zM761.0 406.5h1.03V411.6h-1.03zM762.0 404.7h1.03V408.0h-1.03zM763.0 398.1h1.03V405.7h-1.03zM764.0 401.4h1.03V404.9h-1.03zM765.0 400.9h1.03V405.5h-1.03zM766.0 398.9h1.03V403.7h-1.03zM767.0 396.3h1.03V402.4h-1.03zM768.0 399.4h1.03V404.6h-1.03zM769.0 400.4h1.03V404.8h-1.03zM770.0 401.9h1.03V408.3h-1.03zM771.0 405.2h1.03V412.8h-1.03zM772.0 406.1h1.03V411.1h-1.03zM773.0 406.8h1.03V409.9h-1.03zM774.0 405.5h1.03V408.7h-1.03zM775.0 405.3h1.03V407.8h-1.03zM776.0 404.3h1.03V407.5h-1.03zM777.0 405.1h1.03V408.1h-1.03zM778.0 406.2h1.03V409.2h-1.03zM779.0 406.7h1.03V411.8h-1.03zM780.0 408.2h1.03V410.8h-1.03zM781.0 408.3h1.03V410.8h-1.03zM782.0 408.4h1.03V410.9h-1.03zM783.0 408.9h1.03V411.6h-1.03zM784.0 409.6h1.03V414.5h-1.03zM785.0 411.0h1.03V416.5h-1.03zM786.0 413.9h1.03V423.3h-1.03zM787.0 415.4h1.03V422.2h-1.03zM788.0 418.5h1.03V421.0h-1.03zM789.0 418.5h1.03V421.0h-1.03zM790.0 418.4h1.03V420.9h-1.03zM791.0 418.2h1.03V420.7h-1.03zM792.0 417.6h1.03V420.3h-1.03zM793.0 418.3h1.03V420.8h-1.03zM794.0 418.7h1.03V421.2h-1.03zM795.0 418.9h1.03V421.4h-1.03zM796.0 419.2h1.03V422.4h-1.03zM797.0 419.4h1.03V421.9h-1.03zM798.0 419.3h1.03V421.8h-1.03zM799.0 419.3h1.03V421.8h-1.03zM800.0 419.4h1.03V421.9h-1.03zM801.0 419.2h1.03V421.7h-1.03zM802.0 418.7h1.03V421.3h-1.03zM803.0 419.2h1.03V421.7h-1.03zM804.0 419.3h1.03V421.8h-1.03zM805.0 419.4h1.03V421.9h-1.03zM806.0 419.3h1.03V422.4h-1.03zM807.0 418.7h1.03V421.2h-1.03zM808.0 418.1h1.03V420.6h-1.03zM809.0 417.6h1.03V420.1h-1.03zM810.0 416.8h1.03V419.6h-1.03zM811.0 415.3h1.03V418.7h-1.03zM812.0 415.9h1.03V418.4h-1.03zM813.0 416.1h1.03V418.6h-1.03zM814.0 416.4h1.03V418.9h-1.03zM815.0 416.9h1.03V419.4h-1.03zM816.0 417.4h1.03V419.9h-1.03zM817.0 417.8h1.03V420.3h-1.03zM818.0 418.1h1.03V420.6h-1.03zM819.0 418.6h1.03V422.1h-1.03zM820.0 420.2h1.03V423.6h-1.03zM821.0 421.7h1.03V425.8h-1.03zM822.0 423.8h1.03V431.8h-1.03zM823.0 425.5h1.03V430.2h-1.03zM824.0 425.1h1.03V428.8h-1.03zM825.0 425.5h1.03V428.0h-1.03zM826.0 424.9h1.03V427.4h-1.03zM827.0 423.6h1.03V426.8h-1.03zM828.0 424.2h1.03V426.7h-1.03zM829.0 424.8h1.03V427.7h-1.03zM830.0 425.7h1.03V428.2h-1.03zM831.0 426.1h1.03V428.6h-1.03zM832.0 426.6h1.03V429.1h-1.03zM833.0 427.0h1.03V429.5h-1.03zM834.0 427.4h1.03V429.9h-1.03zM835.0 428.0h1.03V431.8h-1.03zM836.0 428.4h1.03V430.9h-1.03zM837.0 428.3h1.03V430.8h-1.03zM838.0 428.1h1.03V430.6h-1.03zM839.0 427.9h1.03V430.4h-1.03zM840.0 427.7h1.03V430.2h-1.03zM841.0 427.3h1.03V429.8h-1.03zM842.0 426.4h1.03V429.3h-1.03zM843.0 427.1h1.03V429.6h-1.03zM844.0 427.3h1.03V429.8h-1.03zM845.0 427.6h1.03V430.1h-1.03zM846.0 427.8h1.03V430.3h-1.03zM847.0 428.1h1.03V430.6h-1.03zM848.0 428.4h1.03V430.9h-1.03zM849.0 428.6h1.03V431.1h-1.03zM850.0 428.9h1.03V431.8h-1.03zM851.0 428.6h1.03V431.1h-1.03zM852.0 427.6h1.03V430.6h-1.03zM853.0 428.6h1.03V431.1h-1.03zM854.0 429.0h1.03V433.8h-1.03zM855.0 430.1h1.03V432.6h-1.03zM856.0 429.5h1.03V432.0h-1.03zM857.0 429.0h1.03V431.5h-1.03zM858.0 428.5h1.03V431.0h-1.03zM859.0 427.5h1.03V430.4h-1.03zM860.0 426.4h1.03V429.4h-1.03zM861.0 425.8h1.03V428.3h-1.03zM862.0 425.4h1.03V427.9h-1.03zM863.0 425.0h1.03V427.5h-1.03zM864.0 424.8h1.03V427.3h-1.03zM865.0 424.6h1.03V427.1h-1.03zM866.0 423.6h1.03V426.7h-1.03zM867.0 424.5h1.03V427.6h-1.03zM868.0 425.7h1.03V428.3h-1.03zM869.0 426.3h1.03V428.8h-1.03zM870.0 426.8h1.03V429.4h-1.03zM871.0 427.2h1.03V429.7h-1.03zM872.0 427.0h1.03V429.5h-1.03zM873.0 427.1h1.03V429.6h-1.03zM874.0 427.1h1.03V429.6h-1.03zM875.0 427.4h1.03V430.2h-1.03zM876.0 427.2h1.03V429.7h-1.03zM877.0 427.1h1.03V429.6h-1.03zM878.0 427.2h1.03V429.7h-1.03zM879.0 427.2h1.03V429.7h-1.03zM880.0 427.1h1.03V429.6h-1.03zM881.0 427.0h1.03V429.5h-1.03zM882.0 427.0h1.03V429.5h-1.03zM883.0 426.7h1.03V429.2h-1.03zM884.0 426.5h1.03V429.0h-1.03zM885.0 426.1h1.03V428.6h-1.03zM886.0 425.5h1.03V428.7h-1.03zM887.0 426.8h1.03V429.4h-1.03zM888.0 427.5h1.03V430.3h-1.03zM889.0 428.4h1.03V431.6h-1.03zM890.0 428.6h1.03V431.1h-1.03zM891.0 428.6h1.03V431.1h-1.03zM892.0 428.7h1.03V431.2h-1.03zM893.0 428.6h1.03V431.1h-1.03zM894.0 428.7h1.03V431.2h-1.03zM895.0 427.9h1.03V430.8h-1.03zM896.0 428.6h1.03V431.1h-1.03zM897.0 428.6h1.03V431.1h-1.03zM898.0 428.5h1.03V431.0h-1.03zM899.0 428.6h1.03V431.1h-1.03zM900.0 428.7h1.03V431.2h-1.03zM901.0 428.9h1.03V431.4h-1.03zM902.0 428.9h1.03V431.4h-1.03zM903.0 429.0h1.03V431.5h-1.03zM904.0 429.2h1.03V431.7h-1.03zM905.0 429.2h1.03V431.7h-1.03zM906.0 429.3h1.03V431.8h-1.03zM907.0 429.4h1.03V431.9h-1.03zM908.0 429.7h1.03V432.3h-1.03zM909.0 429.1h1.03V431.6h-1.03zM910.0 428.9h1.03V431.4h-1.03zM911.0 428.6h1.03V431.1h-1.03zM912.0 428.2h1.03V430.7h-1.03zM913.0 427.7h1.03V430.2h-1.03zM914.0 427.3h1.03V429.8h-1.03zM915.0 426.6h1.03V429.4h-1.03zM916.0 425.4h1.03V428.6h-1.03zM917.0 423.0h1.03V427.3h-1.03zM918.0 418.9h1.03V425.0h-1.03zM919.0 418.2h1.03V422.3h-1.03zM920.0 415.5h1.03V420.8h-1.03zM921.0 412.4h1.03V418.6h-1.03zM922.0 414.8h1.03V418.0h-1.03zM923.0 409.8h1.03V416.7h-1.03zM924.0 402.4h1.03V415.9h-1.03zM925.0 394.3h1.03V411.6h-1.03zM926.0 387.5h1.03V402.6h-1.03zM927.0 376.2h1.03V395.7h-1.03zM928.0 374.8h1.03V396.6h-1.03zM929.0 376.3h1.03V392.7h-1.03zM930.0 376.8h1.03V390.6h-1.03zM931.0 376.1h1.03V391.3h-1.03zM932.0 376.9h1.03V384.1h-1.03z" fill="#000"/>
<line x1="287.6" y1="80.1" x2="1030" y2="420.6" stroke="#000" stroke-width="3.2" stroke-linecap="round"/>
<polyline points="940,367.4 949.4,372.4 969.5,353.4 977.5,358.8 992.8,341.2" fill="none" stroke="#a0a2b0" stroke-width="2" stroke-linejoin="round" stroke-linecap="round"/>
<polyline points="979.5,342.8 993,341 994,355.5" fill="none" stroke="#a0a2b0" stroke-width="2" stroke-linejoin="miter" stroke-linecap="round"/>
<line x1="1069.3" y1="373.3" x2="1069.3" y2="301.5" stroke="#8f92a1" stroke-width="3" stroke-linecap="round"/>
<polyline points="1059.2,310.4 1069.3,300.8 1079.4,310.4" fill="none" stroke="#8f92a1" stroke-width="2" stroke-linecap="round" stroke-linejoin="miter"/>
<defs><filter id="sh" x="-10%" y="-20%" width="120%" height="150%"><feDropShadow dx="0" dy="1" stdDeviation="1.2" flood-color="#000" flood-opacity="0.12"/></filter><clipPath id="ttc"><rect x="980" y="250" width="160" height="60"/></clipPath></defs>
<g clip-path="url(#ttc)"><rect x="995" y="266" width="160" height="25" rx="4" ry="4" fill="#fff" filter="url(#sh)"/></g>
<text x="1004" y="282.3" font-size="12" fill="#131722" stroke="#131722" stroke-width="0.28" font-weight="normal" text-anchor="start" font-family="Liberation Sans, sans-serif"  textLength="130.3" lengthAdjust="spacingAndGlyphs">1.3505 (102.92%) 13,505</text>
<rect x="522" y="508" width="108" height="40.7" fill="#000"/>
<text x="529.3" y="538.0" font-size="27" fill="#fff" stroke="#fff" stroke-width="0" font-weight="bold" text-anchor="start" font-family="Liberation Sans, sans-serif"  textLength="93.5" lengthAdjust="spacingAndGlyphs">CRV-1D</text>
<text x="17.9" y="18.2" font-size="12" fill="#131722" stroke="#131722" stroke-width="0.28" font-weight="normal" text-anchor="start" font-family="Liberation Sans, sans-serif"  textLength="18.8" lengthAdjust="spacingAndGlyphs">CRV</text>
<text x="43.8" y="18.2" font-size="12" fill="#131722" stroke="#131722" stroke-width="0.28" font-weight="normal" text-anchor="start" font-family="Liberation Sans, sans-serif"  textLength="4.0" lengthAdjust="spacingAndGlyphs">/</text>
<text x="54.0" y="18.2" font-size="12" fill="#131722" stroke="#131722" stroke-width="0.28" font-weight="normal" text-anchor="start" font-family="Liberation Sans, sans-serif"  textLength="47.5" lengthAdjust="spacingAndGlyphs">TetherUS,</text>
<text x="108.6" y="18.2" font-size="12" fill="#131722" stroke="#131722" stroke-width="0.28" font-weight="normal" text-anchor="start" font-family="Liberation Sans, sans-serif"  textLength="12.7" lengthAdjust="spacingAndGlyphs">1D,</text>
<text x="130.8" y="18.2" font-size="12" fill="#131722" stroke="#131722" stroke-width="0.28" font-weight="normal" text-anchor="start" font-family="Liberation Sans, sans-serif"  textLength="47.5" lengthAdjust="spacingAndGlyphs">BINANCE,</text>
<text x="184.3" y="18.2" font-size="12" fill="#131722" stroke="#131722" stroke-width="0.28" font-weight="normal" text-anchor="start" font-family="Liberation Sans, sans-serif"  textLength="33.0" lengthAdjust="spacingAndGlyphs">Heikin</text>
<text x="222.3" y="18.2" font-size="12" fill="#131722" stroke="#131722" stroke-width="0.28" font-weight="normal" text-anchor="start" font-family="Liberation Sans, sans-serif"  textLength="20.4" lengthAdjust="spacingAndGlyphs">Ashi</text>
<text x="251.4" y="18.2" font-size="12" fill="#131722" stroke="#131722" stroke-width="0.28" font-weight="normal" text-anchor="start" font-family="Liberation Sans, sans-serif"  textLength="43" lengthAdjust="spacingAndGlyphs">O1.1233</text>
<text x="302.3" y="18.2" font-size="12" fill="#131722" stroke="#131722" stroke-width="0.28" font-weight="normal" text-anchor="start" font-family="Liberation Sans, sans-serif"  textLength="42.6" lengthAdjust="spacingAndGlyphs">H1.2483</text>
<text x="353.8" y="18.2" font-size="12" fill="#131722" stroke="#131722" stroke-width="0.28" font-weight="normal" text-anchor="start" font-family="Liberation Sans, sans-serif"  textLength="40.2" lengthAdjust="spacingAndGlyphs">L1.1233</text>
<text x="402.3" y="18.2" font-size="12" fill="#131722" stroke="#131722" stroke-width="0.28" font-weight="normal" text-anchor="start" font-family="Liberation Sans, sans-serif"  textLength="42.6" lengthAdjust="spacingAndGlyphs">C1.1996</text>
<text x="18" y="572.6" font-size="12" fill="#131722" stroke="#131722" stroke-width="0.28" font-weight="normal" text-anchor="start" font-family="Liberation Sans, sans-serif"  textLength="15.4" lengthAdjust="spacingAndGlyphs">RSI</text>
<text x="41.4" y="572.6" font-size="12" fill="#7e57c2" stroke="#7e57c2" stroke-width="0.28" font-weight="normal" text-anchor="start" font-family="Liberation Sans, sans-serif"  textLength="28.7" lengthAdjust="spacingAndGlyphs">81.22</text>
<text x="78.5" y="572.6" font-size="12" fill="#f7cb45" stroke="#f7cb45" stroke-width="0.28" font-weight="normal" text-anchor="start" font-family="Liberation Sans, sans-serif"  textLength="29.2" lengthAdjust="spacingAndGlyphs">87.96</text>
<text x="115.3" y="572.6" font-size="12" fill="#131722" stroke="#131722" stroke-width="0.28" font-weight="normal" text-anchor="start" font-family="Liberation Sans, sans-serif"  textLength="8" lengthAdjust="spacingAndGlyphs">∅</text>
<text x="130" y="572.6" font-size="12" fill="#131722" stroke="#131722" stroke-width="0.28" font-weight="normal" text-anchor="start" font-family="Liberation Sans, sans-serif"  textLength="8" lengthAdjust="spacingAndGlyphs">∅</text>
<text x="18" y="606.8" font-size="12" fill="#131722" stroke="#131722" stroke-width="0.28" font-weight="normal" text-anchor="start" font-family="Liberation Sans, sans-serif"  textLength="30.1" lengthAdjust="spacingAndGlyphs">MACD</text>
<text x="55.1" y="606.8" font-size="12" fill="#a8dad4" stroke="#a8dad4" stroke-width="0.28" font-weight="normal" text-anchor="start" font-family="Liberation Sans, sans-serif"  textLength="35.9" lengthAdjust="spacingAndGlyphs">0.0157</text>
<text x="98.8" y="606.8" font-size="12" fill="#3a6cf4" stroke="#3a6cf4" stroke-width="0.28" font-weight="normal" text-anchor="start" font-family="Liberation Sans, sans-serif"  textLength="34.4" lengthAdjust="spacingAndGlyphs">0.2041</text>
<text x="141.9" y="606.8" font-size="12" fill="#f57a1f" stroke="#f57a1f" stroke-width="0.28" font-weight="normal" text-anchor="start" font-family="Liberation Sans, sans-serif"  textLength="35.4" lengthAdjust="spacingAndGlyphs">0.1884</text>
<rect x="11" y="626.7" width="1" height="5.5" fill="#26a69a"/>
<rect x="12" y="626.4" width="1" height="5.8" fill="#26a69a"/>
<rect x="13" y="626.4" width="1" height="5.8" fill="#b2dfdb"/>
<rect x="14" y="626.4" width="1" height="5.8" fill="#26a69a"/>
<rect x="15" y="626.6" width="1" height="5.6" fill="#b2dfdb"/>
<rect x="16" y="627.0" width="1" height="5.2" fill="#b2dfdb"/>
<rect x="17" y="628.0" width="1" height="4.2" fill="#b2dfdb"/>
<rect x="18" y="627.7" width="1" height="4.5" fill="#26a69a"/>
<rect x="19" y="627.7" width="1" height="4.5" fill="#26a69a"/>
<rect x="20" y="627.2" width="1" height="5.0" fill="#26a69a"/>
<rect x="21" y="627.7" width="1" height="4.5" fill="#b2dfdb"/>
<rect x="22" y="627.6" width="1" height="4.6" fill="#26a69a"/>
<rect x="23" y="627.7" width="1" height="4.5" fill="#b2dfdb"/>
<rect x="24" y="628.2" width="1" height="4.0" fill="#b2dfdb"/>
<rect x="25" y="628.1" width="1" height="4.1" fill="#26a69a"/>
<rect x="26" y="628.0" width="1" height="4.2" fill="#26a69a"/>
<rect x="27" y="628.3" width="1" height="3.9" fill="#b2dfdb"/>
<rect x="28" y="627.8" width="1" height="4.4" fill="#26a69a"/>
<rect x="29" y="627.9" width="1" height="4.3" fill="#b2dfdb"/>
<rect x="30" y="628.1" width="1" height="4.1" fill="#b2dfdb"/>
<rect x="31" y="628.6" width="1" height="3.6" fill="#b2dfdb"/>
<rect x="32" y="628.7" width="1" height="3.5" fill="#b2dfdb"/>
<rect x="33" y="629.2" width="1" height="3.0" fill="#b2dfdb"/>
<rect x="34" y="629.3" width="1" height="2.9" fill="#b2dfdb"/>
<rect x="35" y="628.9" width="1" height="3.3" fill="#26a69a"/>
<rect x="36" y="628.6" width="1" height="3.6" fill="#26a69a"/>
<rect x="37" y="628.8" width="1" height="3.4" fill="#b2dfdb"/>
<rect x="38" y="629.4" width="1" height="2.8" fill="#b2dfdb"/>
<rect x="39" y="629.8" width="1" height="2.4" fill="#b2dfdb"/>
<rect x="40" y="629.9" width="1" height="2.3" fill="#b2dfdb"/>
<rect x="41" y="630.5" width="1" height="1.7" fill="#b2dfdb"/>
<rect x="42" y="631.1" width="1" height="1.1" fill="#26a69a"/>
<rect x="43" y="631.6" width="1" height="0.6" fill="#b2dfdb"/>
<rect x="45" y="632.2" width="1" height="0.4" fill="#ff5252"/>
<rect x="46" y="632.2" width="1" height="0.9" fill="#ff5252"/>
<rect x="47" y="632.2" width="1" height="1.1" fill="#ff5252"/>
<rect x="48" y="632.2" width="1" height="1.1" fill="#ff5252"/>
<rect x="49" y="632.2" width="1" height="1.2" fill="#ff5252"/>
<rect x="50" y="632.2" width="1" height="1.2" fill="#ff5252"/>
<rect x="51" y="632.2" width="1" height="1.1" fill="#ffcdd2"/>
<rect x="52" y="632.2" width="1" height="1.0" fill="#ffcdd2"/>
<rect x="53" y="632.2" width="1" height="1.1" fill="#ff5252"/>
<rect x="54" y="632.2" width="1" height="1.1" fill="#ff5252"/>
<rect x="55" y="632.2" width="1" height="1.0" fill="#ffcdd2"/>
<rect x="56" y="632.2" width="1" height="0.9" fill="#ff5252"/>
<rect x="57" y="632.2" width="1" height="0.8" fill="#ff5252"/>
<rect x="58" y="632.2" width="1" height="0.7" fill="#ffcdd2"/>
<rect x="59" y="632.2" width="1" height="0.5" fill="#ffcdd2"/>
<rect x="60" y="632.2" width="1" height="0.3" fill="#ff5252"/>
<rect x="65" y="631.8" width="1" height="0.4" fill="#26a69a"/>
<rect x="66" y="631.7" width="1" height="0.5" fill="#26a69a"/>
<rect x="67" y="631.3" width="1" height="0.9" fill="#26a69a"/>
<rect x="68" y="630.8" width="1" height="1.4" fill="#26a69a"/>
<rect x="69" y="630.5" width="1" height="1.7" fill="#26a69a"/>
<rect x="70" y="630.1" width="1" height="2.1" fill="#26a69a"/>
<rect x="71" y="630.1" width="1" height="2.1" fill="#26a69a"/>
<rect x="72" y="629.7" width="1" height="2.5" fill="#26a69a"/>
<rect x="73" y="629.7" width="1" height="2.5" fill="#b2dfdb"/>
<rect x="74" y="629.3" width="1" height="2.9" fill="#26a69a"/>
<rect x="75" y="629.3" width="1" height="2.9" fill="#26a69a"/>
<rect x="76" y="628.5" width="1" height="3.7" fill="#26a69a"/>
<rect x="77" y="628.0" width="1" height="4.2" fill="#26a69a"/>
<rect x="78" y="627.1" width="1" height="5.1" fill="#26a69a"/>
<rect x="79" y="625.9" width="1" height="6.3" fill="#26a69a"/>
<rect x="80" y="625.7" width="1" height="6.5" fill="#26a69a"/>
<rect x="81" y="624.7" width="1" height="7.5" fill="#26a69a"/>
<rect x="82" y="624.1" width="1" height="8.1" fill="#26a69a"/>
<rect x="83" y="625.0" width="1" height="7.2" fill="#b2dfdb"/>
<rect x="84" y="626.2" width="1" height="6.0" fill="#b2dfdb"/>
<rect x="85" y="627.1" width="1" height="5.1" fill="#b2dfdb"/>
<rect x="86" y="628.5" width="1" height="3.7" fill="#b2dfdb"/>
<rect x="87" y="629.5" width="1" height="2.7" fill="#b2dfdb"/>
<rect x="88" y="628.9" width="1" height="3.3" fill="#26a69a"/>
<rect x="89" y="628.4" width="1" height="3.8" fill="#26a69a"/>
<rect x="90" y="628.0" width="1" height="4.2" fill="#26a69a"/>
<rect x="91" y="629.0" width="1" height="3.2" fill="#b2dfdb"/>
<rect x="92" y="629.7" width="1" height="2.5" fill="#b2dfdb"/>
<rect x="93" y="630.9" width="1" height="1.3" fill="#26a69a"/>
<rect x="94" y="632.2" width="1" height="0.6" fill="#ff5252"/>
<rect x="95" y="632.2" width="1" height="2.9" fill="#ff5252"/>
<rect x="96" y="632.2" width="1" height="4.3" fill="#ff5252"/>
<rect x="97" y="632.2" width="1" height="5.5" fill="#ff5252"/>
<rect x="98" y="632.2" width="1" height="7.2" fill="#ff5252"/>
<rect x="99" y="632.2" width="1" height="7.5" fill="#ff5252"/>
<rect x="100" y="632.2" width="1" height="8.4" fill="#ff5252"/>
<rect x="101" y="632.2" width="1" height="9.3" fill="#ff5252"/>
<rect x="102" y="632.2" width="1" height="8.3" fill="#ffcdd2"/>
<rect x="103" y="632.2" width="1" height="6.8" fill="#ffcdd2"/>
<rect x="104" y="632.2" width="1" height="5.5" fill="#ffcdd2"/>
<rect x="105" y="632.2" width="1" height="4.2" fill="#ffcdd2"/>
<rect x="106" y="632.2" width="1" height="2.7" fill="#ffcdd2"/>
<rect x="107" y="632.2" width="1" height="1.4" fill="#ff5252"/>
<rect x="109" y="631.2" width="1" height="1.0" fill="#26a69a"/>
<rect x="110" y="630.4" width="1" height="1.8" fill="#26a69a"/>
<rect x="111" y="630.2" width="1" height="2.0" fill="#26a69a"/>
<rect x="112" y="629.7" width="1" height="2.5" fill="#26a69a"/>
<rect x="113" y="629.5" width="1" height="2.7" fill="#26a69a"/>
<rect x="114" y="629.5" width="1" height="2.7" fill="#b2dfdb"/>
<rect x="115" y="629.8" width="1" height="2.4" fill="#b2dfdb"/>
<rect x="116" y="630.2" width="1" height="2.0" fill="#b2dfdb"/>
<rect x="117" y="629.5" width="1" height="2.7" fill="#26a69a"/>
<rect x="118" y="628.2" width="1" height="4.0" fill="#26a69a"/>
<rect x="119" y="626.9" width="1" height="5.3" fill="#26a69a"/>
<rect x="120" y="626.7" width="1" height="5.5" fill="#26a69a"/>
<rect x="121" y="626.5" width="1" height="5.7" fill="#26a69a"/>
<rect x="122" y="626.2" width="1" height="6.0" fill="#26a69a"/>
<rect x="123" y="627.9" width="1" height="4.3" fill="#b2dfdb"/>
<rect x="124" y="629.4" width="1" height="2.8" fill="#b2dfdb"/>
<rect x="125" y="631.6" width="1" height="0.6" fill="#b2dfdb"/>
<rect x="126" y="632.2" width="1" height="1.3" fill="#ff5252"/>
<rect x="127" y="632.2" width="1" height="1.7" fill="#ff5252"/>
<rect x="128" y="632.2" width="1" height="2.4" fill="#ff5252"/>
<rect x="129" y="632.2" width="1" height="2.6" fill="#ff5252"/>
<rect x="130" y="631.2" width="1" height="1.0" fill="#26a69a"/>
<rect x="131" y="628.7" width="1" height="3.5" fill="#26a69a"/>
<rect x="132" y="627.0" width="1" height="5.2" fill="#26a69a"/>
<rect x="133" y="631.1" width="1" height="1.1" fill="#26a69a"/>
<rect x="134" y="632.2" width="1" height="3.0" fill="#ff5252"/>
<rect x="135" y="632.2" width="1" height="5.2" fill="#ff5252"/>
<rect x="136" y="632.2" width="1" height="6.9" fill="#ff5252"/>
<rect x="137" y="632.2" width="1" height="6.4" fill="#ffcdd2"/>
<rect x="138" y="632.2" width="1" height="4.3" fill="#ffcdd2"/>
<rect x="139" y="632.2" width="1" height="1.5" fill="#ffcdd2"/>
<rect x="140" y="630.5" width="1" height="1.7" fill="#26a69a"/>
<rect x="141" y="630.2" width="1" height="2.0" fill="#26a69a"/>
<rect x="142" y="629.4" width="1" height="2.8" fill="#26a69a"/>
<rect x="143" y="629.4" width="1" height="2.8" fill="#b2dfdb"/>
<rect x="144" y="629.0" width="1" height="3.2" fill="#26a69a"/>
<rect x="145" y="629.1" width="1" height="3.1" fill="#b2dfdb"/>
<rect x="146" y="628.7" width="1" height="3.5" fill="#26a69a"/>
<rect x="147" y="628.1" width="1" height="4.1" fill="#26a69a"/>
<rect x="148" y="628.7" width="1" height="3.5" fill="#b2dfdb"/>
<rect x="149" y="629.9" width="1" height="2.3" fill="#b2dfdb"/>
<rect x="150" y="632.2" width="1" height="0.4" fill="#ff5252"/>
<rect x="151" y="632.2" width="1" height="4.7" fill="#ff5252"/>
<rect x="152" y="632.2" width="1" height="8.6" fill="#ff5252"/>
<rect x="153" y="632.2" width="1" height="11.8" fill="#ff5252"/>
<rect x="154" y="632.2" width="1" height="11.7" fill="#ffcdd2"/>
<rect x="155" y="632.2" width="1" height="10.9" fill="#ffcdd2"/>
<rect x="156" y="632.2" width="1" height="8.8" fill="#ffcdd2"/>
<rect x="157" y="632.2" width="1" height="6.8" fill="#ffcdd2"/>
<rect x="158" y="632.2" width="1" height="4.6" fill="#ffcdd2"/>
<rect x="159" y="632.2" width="1" height="1.8" fill="#ffcdd2"/>
<rect x="160" y="627.8" width="1" height="4.4" fill="#26a69a"/>
<rect x="161" y="624.0" width="1" height="8.2" fill="#26a69a"/>
<rect x="162" y="623.3" width="1" height="8.9" fill="#26a69a"/>
<rect x="163" y="624.9" width="1" height="7.3" fill="#b2dfdb"/>
<rect x="164" y="627.4" width="1" height="4.8" fill="#b2dfdb"/>
<rect x="165" y="627.9" width="1" height="4.3" fill="#b2dfdb"/>
<rect x="166" y="629.0" width="1" height="3.2" fill="#b2dfdb"/>
<rect x="167" y="629.9" width="1" height="2.3" fill="#b2dfdb"/>
<rect x="168" y="631.7" width="1" height="0.5" fill="#b2dfdb"/>
<rect x="169" y="632.2" width="1" height="1.1" fill="#ff5252"/>
<rect x="170" y="632.2" width="1" height="2.7" fill="#ff5252"/>
<rect x="171" y="632.2" width="1" height="3.8" fill="#ff5252"/>
<rect x="172" y="632.2" width="1" height="3.5" fill="#ffcdd2"/>
<rect x="173" y="632.2" width="1" height="3.5" fill="#ffcdd2"/>
<rect x="174" y="632.2" width="1" height="2.3" fill="#ffcdd2"/>
<rect x="176" y="630.5" width="1" height="1.7" fill="#26a69a"/>
<rect x="177" y="628.9" width="1" height="3.3" fill="#26a69a"/>
<rect x="178" y="629.2" width="1" height="3.0" fill="#b2dfdb"/>
<rect x="179" y="628.7" width="1" height="3.5" fill="#26a69a"/>
<rect x="180" y="628.0" width="1" height="4.2" fill="#26a69a"/>
<rect x="181" y="628.8" width="1" height="3.4" fill="#b2dfdb"/>
<rect x="182" y="630.0" width="1" height="2.2" fill="#b2dfdb"/>
<rect x="183" y="630.8" width="1" height="1.4" fill="#26a69a"/>
<rect x="185" y="632.2" width="1" height="1.0" fill="#ff5252"/>
<rect x="186" y="632.2" width="1" height="1.7" fill="#ff5252"/>
<rect x="187" y="632.2" width="1" height="1.8" fill="#ff5252"/>
<rect x="188" y="632.2" width="1" height="1.5" fill="#ff5252"/>
<rect x="189" y="632.2" width="1" height="0.9" fill="#ff5252"/>
<rect x="191" y="630.5" width="1" height="1.7" fill="#26a69a"/>
<rect x="192" y="630.3" width="1" height="1.9" fill="#26a69a"/>
<rect x="193" y="630.3" width="1" height="1.9" fill="#b2dfdb"/>
<rect x="194" y="629.6" width="1" height="2.6" fill="#26a69a"/>
<rect x="195" y="629.6" width="1" height="2.6" fill="#26a69a"/>
<rect x="196" y="629.3" width="1" height="2.9" fill="#26a69a"/>
<rect x="197" y="629.8" width="1" height="2.4" fill="#b2dfdb"/>
<rect x="198" y="629.6" width="1" height="2.6" fill="#26a69a"/>
<rect x="199" y="629.0" width="1" height="3.2" fill="#26a69a"/>
<rect x="200" y="629.3" width="1" height="2.9" fill="#b2dfdb"/>
<rect x="201" y="628.5" width="1" height="3.7" fill="#26a69a"/>
<rect x="202" y="628.1" width="1" height="4.1" fill="#26a69a"/>
<rect x="203" y="626.9" width="1" height="5.3" fill="#26a69a"/>
<rect x="204" y="628.0" width="1" height="4.2" fill="#b2dfdb"/>
<rect x="205" y="628.6" width="1" height="3.6" fill="#b2dfdb"/>
<rect x="206" y="629.7" width="1" height="2.5" fill="#b2dfdb"/>
<rect x="207" y="629.8" width="1" height="2.4" fill="#b2dfdb"/>
<rect x="208" y="630.5" width="1" height="1.7" fill="#b2dfdb"/>
<rect x="209" y="631.1" width="1" height="1.1" fill="#b2dfdb"/>
<rect x="211" y="632.2" width="1" height="1.2" fill="#ff5252"/>
<rect x="212" y="632.2" width="1" height="1.1" fill="#ff5252"/>
<rect x="213" y="632.2" width="1" height="0.9" fill="#ff5252"/>
<rect x="214" y="632.2" width="1" height="0.9" fill="#ff5252"/>
<rect x="215" y="632.2" width="1" height="0.8" fill="#ff5252"/>
<rect x="216" y="632.2" width="1" height="0.7" fill="#ffcdd2"/>
<rect x="217" y="632.2" width="1" height="0.6" fill="#ff5252"/>
<rect x="218" y="632.2" width="1" height="0.5" fill="#ffcdd2"/>
<rect x="219" y="631.9" width="1" height="0.3" fill="#26a69a"/>
<rect x="220" y="631.1" width="1" height="1.1" fill="#26a69a"/>
<rect x="221" y="630.1" width="1" height="2.1" fill="#26a69a"/>
<rect x="222" y="629.0" width="1" height="3.2" fill="#26a69a"/>
<rect x="223" y="627.6" width="1" height="4.6" fill="#26a69a"/>
<rect x="224" y="627.1" width="1" height="5.1" fill="#26a69a"/>
<rect x="225" y="628.8" width="1" height="3.4" fill="#b2dfdb"/>
<rect x="226" y="631.0" width="1" height="1.2" fill="#b2dfdb"/>
<rect x="227" y="632.2" width="1" height="2.2" fill="#ff5252"/>
<rect x="228" y="632.2" width="1" height="2.5" fill="#ff5252"/>
<rect x="229" y="632.2" width="1" height="3.3" fill="#ff5252"/>
<rect x="230" y="632.2" width="1" height="3.8" fill="#ff5252"/>
<rect x="231" y="632.2" width="1" height="2.8" fill="#ffcdd2"/>
<rect x="232" y="632.2" width="1" height="2.2" fill="#ffcdd2"/>
<rect x="234" y="629.5" width="1" height="2.7" fill="#26a69a"/>
<rect x="235" y="629.2" width="1" height="3.0" fill="#26a69a"/>
<rect x="236" y="628.8" width="1" height="3.4" fill="#26a69a"/>
<rect x="237" y="629.2" width="1" height="3.0" fill="#b2dfdb"/>
<rect x="238" y="630.2" width="1" height="2.0" fill="#b2dfdb"/>
<rect x="239" y="630.7" width="1" height="1.5" fill="#26a69a"/>
<rect x="240" y="630.9" width="1" height="1.3" fill="#26a69a"/>
<rect x="241" y="631.0" width="1" height="1.2" fill="#b2dfdb"/>
<rect x="242" y="631.3" width="1" height="0.9" fill="#b2dfdb"/>
<rect x="243" y="631.1" width="1" height="1.1" fill="#26a69a"/>
<rect x="244" y="630.6" width="1" height="1.6" fill="#26a69a"/>
<rect x="245" y="628.7" width="1" height="3.5" fill="#26a69a"/>
<rect x="246" y="624.3" width="1" height="7.9" fill="#26a69a"/>
<rect x="247" y="621.6" width="1" height="10.6" fill="#26a69a"/>
<rect x="248" y="619.9" width="1" height="12.3" fill="#26a69a"/>
<rect x="249" y="621.7" width="1" height="10.5" fill="#b2dfdb"/>
<rect x="250" y="623.1" width="1" height="9.1" fill="#b2dfdb"/>
<rect x="251" y="626.2" width="1" height="6.0" fill="#b2dfdb"/>
<rect x="252" y="629.1" width="1" height="3.1" fill="#b2dfdb"/>
<rect x="253" y="632.2" width="1" height="4.3" fill="#ff5252"/>
<rect x="254" y="632.2" width="1" height="4.7" fill="#ff5252"/>
<rect x="255" y="632.2" width="1" height="5.7" fill="#ff5252"/>
<rect x="256" y="632.2" width="1" height="6.2" fill="#ff5252"/>
<rect x="257" y="632.2" width="1" height="6.5" fill="#ff5252"/>
<rect x="258" y="632.2" width="1" height="7.6" fill="#ff5252"/>
<rect x="259" y="632.2" width="1" height="8.1" fill="#ff5252"/>
<rect x="260" y="632.2" width="1" height="6.7" fill="#ffcdd2"/>
<rect x="261" y="632.2" width="1" height="5.7" fill="#ffcdd2"/>
<rect x="262" y="632.2" width="1" height="5.0" fill="#ffcdd2"/>
<rect x="263" y="632.2" width="1" height="3.8" fill="#ffcdd2"/>
<rect x="264" y="628.1" width="1" height="4.1" fill="#26a69a"/>
<rect x="265" y="623.6" width="1" height="8.6" fill="#26a69a"/>
<rect x="266" y="622.0" width="1" height="10.2" fill="#26a69a"/>
<rect x="267" y="625.9" width="1" height="6.3" fill="#b2dfdb"/>
<rect x="268" y="629.0" width="1" height="3.2" fill="#b2dfdb"/>
<rect x="270" y="632.2" width="1" height="3.1" fill="#ff5252"/>
<rect x="271" y="632.2" width="1" height="7.9" fill="#ff5252"/>
<rect x="272" y="632.2" width="1" height="9.8" fill="#ff5252"/>
<rect x="273" y="632.2" width="1" height="11.4" fill="#ff5252"/>
<rect x="274" y="632.2" width="1" height="9.8" fill="#ffcdd2"/>
<rect x="275" y="632.2" width="1" height="7.8" fill="#ffcdd2"/>
<rect x="276" y="632.2" width="1" height="6.3" fill="#ffcdd2"/>
<rect x="277" y="632.2" width="1" height="4.0" fill="#ffcdd2"/>
<rect x="278" y="632.2" width="1" height="0.4" fill="#ff5252"/>
<rect x="279" y="628.9" width="1" height="3.3" fill="#26a69a"/>
<rect x="280" y="626.4" width="1" height="5.8" fill="#26a69a"/>
<rect x="281" y="623.4" width="1" height="8.8" fill="#26a69a"/>
<rect x="282" y="620.9" width="1" height="11.3" fill="#26a69a"/>
<rect x="283" y="619.3" width="1" height="12.9" fill="#26a69a"/>
<rect x="284" y="622.0" width="1" height="10.2" fill="#b2dfdb"/>
<rect x="285" y="624.0" width="1" height="8.2" fill="#b2dfdb"/>
<rect x="286" y="624.8" width="1" height="7.4" fill="#b2dfdb"/>
<rect x="287" y="625.0" width="1" height="7.2" fill="#b2dfdb"/>
<rect x="288" y="624.0" width="1" height="8.2" fill="#26a69a"/>
<rect x="289" y="622.7" width="1" height="9.5" fill="#26a69a"/>
<rect x="290" y="626.4" width="1" height="5.8" fill="#b2dfdb"/>
<rect x="291" y="631.3" width="1" height="0.9" fill="#b2dfdb"/>
<rect x="292" y="632.2" width="1" height="4.7" fill="#ff5252"/>
<rect x="293" y="632.2" width="1" height="7.9" fill="#ff5252"/>
<rect x="294" y="632.2" width="1" height="10.8" fill="#ff5252"/>
<rect x="295" y="632.2" width="1" height="8.7" fill="#ffcdd2"/>
<rect x="296" y="632.2" width="1" height="7.2" fill="#ffcdd2"/>
<rect x="297" y="632.2" width="1" height="7.7" fill="#ff5252"/>
<rect x="298" y="632.2" width="1" height="8.7" fill="#ff5252"/>
<rect x="299" y="632.2" width="1" height="11.0" fill="#ff5252"/>
<rect x="300" y="632.2" width="1" height="13.0" fill="#ff5252"/>
<rect x="301" y="632.2" width="1" height="12.3" fill="#ffcdd2"/>
<rect x="302" y="632.2" width="1" height="10.8" fill="#ffcdd2"/>
<rect x="303" y="632.2" width="1" height="8.7" fill="#ffcdd2"/>
<rect x="304" y="632.2" width="1" height="6.0" fill="#ffcdd2"/>
<rect x="305" y="632.2" width="1" height="4.3" fill="#ffcdd2"/>
<rect x="306" y="632.2" width="1" height="2.3" fill="#ffcdd2"/>
<rect x="307" y="630.8" width="1" height="1.4" fill="#26a69a"/>
<rect x="308" y="628.2" width="1" height="4.0" fill="#26a69a"/>
<rect x="309" y="626.1" width="1" height="6.1" fill="#26a69a"/>
<rect x="310" y="625.6" width="1" height="6.6" fill="#26a69a"/>
<rect x="311" y="626.7" width="1" height="5.5" fill="#b2dfdb"/>
<rect x="312" y="628.5" width="1" height="3.7" fill="#b2dfdb"/>
<rect x="313" y="628.7" width="1" height="3.5" fill="#b2dfdb"/>
<rect x="314" y="629.3" width="1" height="2.9" fill="#b2dfdb"/>
<rect x="315" y="629.8" width="1" height="2.4" fill="#b2dfdb"/>
<rect x="316" y="630.3" width="1" height="1.9" fill="#b2dfdb"/>
<rect x="317" y="630.7" width="1" height="1.5" fill="#b2dfdb"/>
<rect x="319" y="632.2" width="1" height="1.0" fill="#ff5252"/>
<rect x="320" y="632.2" width="1" height="2.0" fill="#ff5252"/>
<rect x="321" y="632.2" width="1" height="2.9" fill="#ff5252"/>
<rect x="322" y="632.2" width="1" height="2.3" fill="#ffcdd2"/>
<rect x="323" y="632.2" width="1" height="1.0" fill="#ffcdd2"/>
<rect x="324" y="631.6" width="1" height="0.6" fill="#26a69a"/>
<rect x="325" y="630.0" width="1" height="2.2" fill="#26a69a"/>
<rect x="326" y="630.4" width="1" height="1.8" fill="#b2dfdb"/>
<rect x="327" y="630.6" width="1" height="1.6" fill="#26a69a"/>
<rect x="328" y="630.8" width="1" height="1.4" fill="#26a69a"/>
<rect x="329" y="630.2" width="1" height="2.0" fill="#26a69a"/>
<rect x="330" y="629.7" width="1" height="2.5" fill="#26a69a"/>
<rect x="331" y="629.0" width="1" height="3.2" fill="#26a69a"/>
<rect x="332" y="628.7" width="1" height="3.5" fill="#26a69a"/>
<rect x="333" y="627.9" width="1" height="4.3" fill="#26a69a"/>
<rect x="334" y="627.8" width="1" height="4.4" fill="#26a69a"/>
<rect x="335" y="627.4" width="1" height="4.8" fill="#26a69a"/>
<rect x="336" y="627.3" width="1" height="4.9" fill="#26a69a"/>
<rect x="337" y="627.1" width="1" height="5.1" fill="#26a69a"/>
<rect x="338" y="627.4" width="1" height="4.8" fill="#b2dfdb"/>
<rect x="339" y="626.9" width="1" height="5.3" fill="#26a69a"/>
<rect x="340" y="627.0" width="1" height="5.2" fill="#b2dfdb"/>
<rect x="341" y="628.1" width="1" height="4.1" fill="#b2dfdb"/>
<rect x="342" y="628.5" width="1" height="3.7" fill="#b2dfdb"/>
<rect x="343" y="628.9" width="1" height="3.3" fill="#b2dfdb"/>
<rect x="344" y="630.9" width="1" height="1.3" fill="#b2dfdb"/>
<rect x="346" y="632.2" width="1" height="0.9" fill="#ff5252"/>
<rect x="347" y="632.2" width="1" height="2.3" fill="#ff5252"/>
<rect x="348" y="632.2" width="1" height="2.8" fill="#ff5252"/>
<rect x="349" y="632.2" width="1" height="3.9" fill="#ff5252"/>
<rect x="350" y="632.2" width="1" height="2.8" fill="#ffcdd2"/>
<rect x="351" y="632.2" width="1" height="2.0" fill="#ff5252"/>
<rect x="352" y="632.2" width="1" height="0.4" fill="#ff5252"/>
<rect x="353" y="631.3" width="1" height="0.9" fill="#26a69a"/>
<rect x="354" y="629.9" width="1" height="2.3" fill="#26a69a"/>
<rect x="355" y="629.0" width="1" height="3.2" fill="#26a69a"/>
<rect x="356" y="629.9" width="1" height="2.3" fill="#b2dfdb"/>
<rect x="357" y="631.2" width="1" height="1.0" fill="#b2dfdb"/>
<rect x="359" y="632.2" width="1" height="0.4" fill="#ff5252"/>
<rect x="360" y="631.8" width="1" height="0.4" fill="#26a69a"/>
<rect x="361" y="630.9" width="1" height="1.3" fill="#26a69a"/>
<rect x="363" y="632.2" width="1" height="2.2" fill="#ff5252"/>
<rect x="364" y="632.2" width="1" height="3.8" fill="#ff5252"/>
<rect x="365" y="632.2" width="1" height="6.0" fill="#ff5252"/>
<rect x="366" y="632.2" width="1" height="5.2" fill="#ffcdd2"/>
<rect x="367" y="632.2" width="1" height="4.5" fill="#ffcdd2"/>
<rect x="368" y="632.2" width="1" height="3.8" fill="#ffcdd2"/>
<rect x="369" y="632.2" width="1" height="2.6" fill="#ffcdd2"/>
<rect x="370" y="632.2" width="1" height="1.2" fill="#ff5252"/>
<rect x="372" y="631.2" width="1" height="1.0" fill="#26a69a"/>
<rect x="373" y="630.7" width="1" height="1.5" fill="#26a69a"/>
<rect x="374" y="629.6" width="1" height="2.6" fill="#26a69a"/>
<rect x="375" y="629.3" width="1" height="2.9" fill="#26a69a"/>
<rect x="376" y="628.7" width="1" height="3.5" fill="#26a69a"/>
<rect x="377" y="628.6" width="1" height="3.6" fill="#26a69a"/>
<rect x="378" y="628.5" width="1" height="3.7" fill="#26a69a"/>
<rect x="379" y="628.9" width="1" height="3.3" fill="#b2dfdb"/>
<rect x="380" y="629.3" width="1" height="2.9" fill="#b2dfdb"/>
<rect x="381" y="630.0" width="1" height="2.2" fill="#26a69a"/>
<rect x="382" y="630.1" width="1" height="2.1" fill="#b2dfdb"/>
<rect x="383" y="630.9" width="1" height="1.3" fill="#26a69a"/>
<rect x="384" y="631.8" width="1" height="0.4" fill="#b2dfdb"/>
<rect x="385" y="632.2" width="1" height="0.8" fill="#ff5252"/>
<rect x="386" y="632.2" width="1" height="0.8" fill="#ff5252"/>
<rect x="387" y="632.2" width="1" height="1.0" fill="#ff5252"/>
<rect x="388" y="632.2" width="1" height="1.1" fill="#ff5252"/>
<rect x="390" y="631.2" width="1" height="1.0" fill="#26a69a"/>
<rect x="391" y="630.7" width="1" height="1.5" fill="#26a69a"/>
<rect x="392" y="629.8" width="1" height="2.4" fill="#26a69a"/>
<rect x="393" y="630.0" width="1" height="2.2" fill="#26a69a"/>
<rect x="394" y="629.3" width="1" height="2.9" fill="#26a69a"/>
<rect x="395" y="629.5" width="1" height="2.7" fill="#b2dfdb"/>
<rect x="396" y="629.3" width="1" height="2.9" fill="#26a69a"/>
<rect x="397" y="628.4" width="1" height="3.8" fill="#26a69a"/>
<rect x="398" y="628.2" width="1" height="4.0" fill="#26a69a"/>
<rect x="399" y="627.5" width="1" height="4.7" fill="#26a69a"/>
<rect x="400" y="628.3" width="1" height="3.9" fill="#b2dfdb"/>
<rect x="401" y="628.1" width="1" height="4.1" fill="#26a69a"/>
<rect x="402" y="628.4" width="1" height="3.8" fill="#b2dfdb"/>
<rect x="403" y="628.7" width="1" height="3.5" fill="#b2dfdb"/>
<rect x="404" y="628.8" width="1" height="3.4" fill="#b2dfdb"/>
<rect x="405" y="628.5" width="1" height="3.7" fill="#26a69a"/>
<rect x="406" y="628.2" width="1" height="4.0" fill="#26a69a"/>
<rect x="407" y="628.9" width="1" height="3.3" fill="#b2dfdb"/>
<rect x="408" y="629.2" width="1" height="3.0" fill="#b2dfdb"/>
<rect x="409" y="629.9" width="1" height="2.3" fill="#b2dfdb"/>
<rect x="410" y="630.0" width="1" height="2.2" fill="#26a69a"/>
<rect x="411" y="630.3" width="1" height="1.9" fill="#b2dfdb"/>
<rect x="412" y="630.6" width="1" height="1.6" fill="#26a69a"/>
<rect x="413" y="631.4" width="1" height="0.8" fill="#b2dfdb"/>
<rect x="415" y="632.2" width="1" height="0.8" fill="#ff5252"/>
<rect x="416" y="632.2" width="1" height="0.9" fill="#ff5252"/>
<rect x="417" y="632.2" width="1" height="0.8" fill="#ff5252"/>
<rect x="418" y="632.2" width="1" height="1.0" fill="#ff5252"/>
<rect x="419" y="632.2" width="1" height="0.9" fill="#ffcdd2"/>
<rect x="420" y="632.2" width="1" height="0.8" fill="#ff5252"/>
<rect x="421" y="632.2" width="1" height="1.1" fill="#ff5252"/>
<rect x="422" y="632.2" width="1" height="1.5" fill="#ff5252"/>
<rect x="423" y="632.2" width="1" height="1.9" fill="#ff5252"/>
<rect x="424" y="632.2" width="1" height="1.9" fill="#ff5252"/>
<rect x="425" y="632.2" width="1" height="2.6" fill="#ff5252"/>
<rect x="426" y="632.2" width="1" height="3.5" fill="#ff5252"/>
<rect x="427" y="632.2" width="1" height="2.4" fill="#ffcdd2"/>
<rect x="428" y="632.2" width="1" height="1.0" fill="#ff5252"/>
<rect x="429" y="632.2" width="1" height="0.8" fill="#ffcdd2"/>
<rect x="430" y="632.2" width="1" height="0.4" fill="#ffcdd2"/>
<rect x="432" y="631.8" width="1" height="0.4" fill="#26a69a"/>
<rect x="433" y="631.3" width="1" height="0.9" fill="#26a69a"/>
<rect x="434" y="631.2" width="1" height="1.0" fill="#26a69a"/>
<rect x="435" y="630.9" width="1" height="1.3" fill="#26a69a"/>
<rect x="436" y="630.4" width="1" height="1.8" fill="#26a69a"/>
<rect x="437" y="630.5" width="1" height="1.7" fill="#b2dfdb"/>
<rect x="438" y="630.3" width="1" height="1.9" fill="#26a69a"/>
<rect x="439" y="630.5" width="1" height="1.7" fill="#b2dfdb"/>
<rect x="440" y="631.3" width="1" height="0.9" fill="#b2dfdb"/>
<rect x="442" y="632.2" width="1" height="0.8" fill="#ff5252"/>
<rect x="443" y="632.2" width="1" height="0.6" fill="#ffcdd2"/>
<rect x="444" y="632.2" width="1" height="0.5" fill="#ff5252"/>
<rect x="445" y="632.2" width="1" height="0.6" fill="#ff5252"/>
<rect x="446" y="632.2" width="1" height="0.5" fill="#ff5252"/>
<rect x="449" y="631.8" width="1" height="0.4" fill="#26a69a"/>
<rect x="450" y="631.4" width="1" height="0.8" fill="#26a69a"/>
<rect x="451" y="631.2" width="1" height="1.0" fill="#26a69a"/>
<rect x="452" y="631.3" width="1" height="0.9" fill="#26a69a"/>
<rect x="453" y="631.0" width="1" height="1.2" fill="#26a69a"/>
<rect x="454" y="630.9" width="1" height="1.3" fill="#26a69a"/>
<rect x="455" y="630.8" width="1" height="1.4" fill="#26a69a"/>
<rect x="456" y="631.2" width="1" height="1.0" fill="#b2dfdb"/>
<rect x="457" y="631.5" width="1" height="0.7" fill="#26a69a"/>
<rect x="458" y="631.5" width="1" height="0.7" fill="#26a69a"/>
<rect x="459" y="631.6" width="1" height="0.6" fill="#26a69a"/>
<rect x="460" y="631.1" width="1" height="1.1" fill="#26a69a"/>
<rect x="461" y="630.7" width="1" height="1.5" fill="#26a69a"/>
<rect x="462" y="630.3" width="1" height="1.9" fill="#26a69a"/>
<rect x="463" y="630.0" width="1" height="2.2" fill="#26a69a"/>
<rect x="464" y="630.5" width="1" height="1.7" fill="#26a69a"/>
<rect x="465" y="630.0" width="1" height="2.2" fill="#26a69a"/>
<rect x="466" y="630.2" width="1" height="2.0" fill="#26a69a"/>
<rect x="467" y="630.5" width="1" height="1.7" fill="#26a69a"/>
<rect x="468" y="630.3" width="1" height="1.9" fill="#26a69a"/>
<rect x="469" y="630.8" width="1" height="1.4" fill="#26a69a"/>
<rect x="470" y="631.1" width="1" height="1.1" fill="#b2dfdb"/>
<rect x="471" y="631.3" width="1" height="0.9" fill="#b2dfdb"/>
<rect x="472" y="631.8" width="1" height="0.4" fill="#b2dfdb"/>
<rect x="473" y="632.2" width="1" height="0.4" fill="#ff5252"/>
<rect x="474" y="632.2" width="1" height="0.9" fill="#ff5252"/>
<rect x="475" y="632.2" width="1" height="1.0" fill="#ff5252"/>
<rect x="476" y="632.2" width="1" height="1.5" fill="#ff5252"/>
<rect x="477" y="632.2" width="1" height="1.5" fill="#ff5252"/>
<rect x="478" y="632.2" width="1" height="1.2" fill="#ff5252"/>
<rect x="479" y="632.2" width="1" height="1.2" fill="#ffcdd2"/>
<rect x="480" y="632.2" width="1" height="0.9" fill="#ff5252"/>
<rect x="482" y="631.5" width="1" height="0.7" fill="#26a69a"/>
<rect x="483" y="630.9" width="1" height="1.3" fill="#26a69a"/>
<rect x="484" y="630.1" width="1" height="2.1" fill="#26a69a"/>
<rect x="485" y="629.8" width="1" height="2.4" fill="#26a69a"/>
<rect x="486" y="629.7" width="1" height="2.5" fill="#26a69a"/>
<rect x="487" y="630.1" width="1" height="2.1" fill="#26a69a"/>
<rect x="488" y="630.3" width="1" height="1.9" fill="#26a69a"/>
<rect x="489" y="630.4" width="1" height="1.8" fill="#b2dfdb"/>
<rect x="490" y="630.9" width="1" height="1.3" fill="#b2dfdb"/>
<rect x="491" y="630.8" width="1" height="1.4" fill="#26a69a"/>
<rect x="492" y="631.0" width="1" height="1.2" fill="#26a69a"/>
<rect x="493" y="631.1" width="1" height="1.1" fill="#26a69a"/>
<rect x="494" y="631.3" width="1" height="0.9" fill="#26a69a"/>
<rect x="495" y="631.5" width="1" height="0.7" fill="#26a69a"/>
<rect x="498" y="632.2" width="1" height="0.6" fill="#ff5252"/>
<rect x="499" y="632.2" width="1" height="0.7" fill="#ff5252"/>
<rect x="500" y="632.2" width="1" height="0.7" fill="#ff5252"/>
<rect x="501" y="632.2" width="1" height="0.6" fill="#ff5252"/>
<rect x="502" y="632.2" width="1" height="0.7" fill="#ff5252"/>
<rect x="503" y="632.2" width="1" height="0.4" fill="#ff5252"/>
<rect x="505" y="631.6" width="1" height="0.6" fill="#26a69a"/>
<rect x="506" y="631.2" width="1" height="1.0" fill="#26a69a"/>
<rect x="507" y="630.8" width="1" height="1.4" fill="#26a69a"/>
<rect x="508" y="630.4" width="1" height="1.8" fill="#26a69a"/>
<rect x="509" y="630.5" width="1" height="1.7" fill="#b2dfdb"/>
<rect x="510" y="629.7" width="1" height="2.5" fill="#26a69a"/>
<rect x="511" y="630.0" width="1" height="2.2" fill="#b2dfdb"/>
<rect x="512" y="629.4" width="1" height="2.8" fill="#26a69a"/>
<rect x="513" y="628.9" width="1" height="3.3" fill="#26a69a"/>
<rect x="514" y="629.3" width="1" height="2.9" fill="#b2dfdb"/>
<rect x="515" y="629.6" width="1" height="2.6" fill="#b2dfdb"/>
<rect x="516" y="629.4" width="1" height="2.8" fill="#26a69a"/>
<rect x="517" y="629.4" width="1" height="2.8" fill="#b2dfdb"/>
<rect x="518" y="630.0" width="1" height="2.2" fill="#b2dfdb"/>
<rect x="519" y="630.7" width="1" height="1.5" fill="#b2dfdb"/>
<rect x="520" y="630.5" width="1" height="1.7" fill="#26a69a"/>
<rect x="521" y="631.4" width="1" height="0.8" fill="#26a69a"/>
<rect x="522" y="631.7" width="1" height="0.5" fill="#26a69a"/>
<rect x="524" y="632.2" width="1" height="0.6" fill="#ff5252"/>
<rect x="525" y="632.2" width="1" height="0.7" fill="#ff5252"/>
<rect x="526" y="632.2" width="1" height="0.8" fill="#ff5252"/>
<rect x="527" y="632.2" width="1" height="1.1" fill="#ff5252"/>
<rect x="528" y="632.2" width="1" height="1.5" fill="#ff5252"/>
<rect x="529" y="632.2" width="1" height="1.9" fill="#ff5252"/>
<rect x="530" y="632.2" width="1" height="2.2" fill="#ff5252"/>
<rect x="531" y="632.2" width="1" height="0.9" fill="#ff5252"/>
<rect x="532" y="631.9" width="1" height="0.3" fill="#26a69a"/>
<rect x="533" y="630.6" width="1" height="1.6" fill="#26a69a"/>
<rect x="534" y="630.8" width="1" height="1.4" fill="#b2dfdb"/>
<rect x="535" y="630.9" width="1" height="1.3" fill="#b2dfdb"/>
<rect x="536" y="631.1" width="1" height="1.1" fill="#b2dfdb"/>
<rect x="538" y="632.2" width="1" height="1.1" fill="#ff5252"/>
<rect x="539" y="632.2" width="1" height="1.1" fill="#ff5252"/>
<rect x="540" y="632.2" width="1" height="1.6" fill="#ff5252"/>
<rect x="541" y="632.2" width="1" height="1.5" fill="#ffcdd2"/>
<rect x="542" y="632.2" width="1" height="1.1" fill="#ff5252"/>
<rect x="543" y="632.2" width="1" height="1.0" fill="#ffcdd2"/>
<rect x="544" y="632.2" width="1" height="0.8" fill="#ff5252"/>
<rect x="545" y="632.2" width="1" height="0.5" fill="#ffcdd2"/>
<rect x="547" y="631.6" width="1" height="0.6" fill="#26a69a"/>
<rect x="548" y="631.0" width="1" height="1.2" fill="#26a69a"/>
<rect x="549" y="630.6" width="1" height="1.6" fill="#26a69a"/>
<rect x="550" y="630.4" width="1" height="1.8" fill="#26a69a"/>
<rect x="551" y="630.6" width="1" height="1.6" fill="#b2dfdb"/>
<rect x="552" y="630.8" width="1" height="1.4" fill="#b2dfdb"/>
<rect x="553" y="630.7" width="1" height="1.5" fill="#26a69a"/>
<rect x="554" y="630.9" width="1" height="1.3" fill="#b2dfdb"/>
<rect x="555" y="631.1" width="1" height="1.1" fill="#26a69a"/>
<rect x="556" y="631.4" width="1" height="0.8" fill="#26a69a"/>
<rect x="557" y="631.7" width="1" height="0.5" fill="#b2dfdb"/>
<rect x="558" y="631.7" width="1" height="0.5" fill="#26a69a"/>
<rect x="559" y="631.3" width="1" height="0.9" fill="#26a69a"/>
<rect x="560" y="631.4" width="1" height="0.8" fill="#b2dfdb"/>
<rect x="561" y="631.0" width="1" height="1.2" fill="#26a69a"/>
<rect x="562" y="631.2" width="1" height="1.0" fill="#b2dfdb"/>
<rect x="563" y="630.7" width="1" height="1.5" fill="#26a69a"/>
<rect x="564" y="630.9" width="1" height="1.3" fill="#26a69a"/>
<rect x="565" y="630.5" width="1" height="1.7" fill="#26a69a"/>
<rect x="566" y="631.1" width="1" height="1.1" fill="#b2dfdb"/>
<rect x="567" y="631.1" width="1" height="1.1" fill="#26a69a"/>
<rect x="568" y="631.3" width="1" height="0.9" fill="#b2dfdb"/>
<rect x="569" y="631.8" width="1" height="0.4" fill="#b2dfdb"/>
<rect x="570" y="632.2" width="1" height="0.3" fill="#ff5252"/>
<rect x="571" y="632.2" width="1" height="1.0" fill="#ff5252"/>
<rect x="572" y="632.2" width="1" height="1.0" fill="#ffcdd2"/>
<rect x="573" y="632.2" width="1" height="0.9" fill="#ff5252"/>
<rect x="574" y="632.2" width="1" height="1.3" fill="#ff5252"/>
<rect x="575" y="632.2" width="1" height="1.2" fill="#ffcdd2"/>
<rect x="576" y="632.2" width="1" height="1.1" fill="#ff5252"/>
<rect x="577" y="632.2" width="1" height="1.0" fill="#ff5252"/>
<rect x="578" y="632.2" width="1" height="1.0" fill="#ff5252"/>
<rect x="579" y="632.2" width="1" height="0.8" fill="#ffcdd2"/>
<rect x="580" y="632.2" width="1" height="0.9" fill="#ff5252"/>
<rect x="581" y="632.2" width="1" height="0.7" fill="#ffcdd2"/>
<rect x="582" y="632.2" width="1" height="0.7" fill="#ff5252"/>
<rect x="583" y="632.2" width="1" height="0.7" fill="#ff5252"/>
<rect x="584" y="632.2" width="1" height="0.5" fill="#ffcdd2"/>
<rect x="585" y="632.2" width="1" height="0.6" fill="#ff5252"/>
<rect x="587" y="631.8" width="1" height="0.4" fill="#26a69a"/>
<rect x="588" y="631.3" width="1" height="0.9" fill="#26a69a"/>
<rect x="589" y="630.9" width="1" height="1.3" fill="#26a69a"/>
<rect x="590" y="631.0" width="1" height="1.2" fill="#26a69a"/>
<rect x="591" y="631.0" width="1" height="1.2" fill="#26a69a"/>
<rect x="592" y="630.9" width="1" height="1.3" fill="#26a69a"/>
<rect x="593" y="631.0" width="1" height="1.2" fill="#26a69a"/>
<rect x="594" y="630.6" width="1" height="1.6" fill="#26a69a"/>
<rect x="595" y="631.3" width="1" height="0.9" fill="#b2dfdb"/>
<rect x="596" y="631.8" width="1" height="0.4" fill="#26a69a"/>
<rect x="598" y="632.2" width="1" height="0.5" fill="#ff5252"/>
<rect x="599" y="632.2" width="1" height="0.7" fill="#ff5252"/>
<rect x="600" y="632.2" width="1" height="1.0" fill="#ff5252"/>
<rect x="601" y="632.2" width="1" height="1.2" fill="#ff5252"/>
<rect x="602" y="632.2" width="1" height="1.7" fill="#ff5252"/>
<rect x="603" y="632.2" width="1" height="1.3" fill="#ff5252"/>
<rect x="604" y="632.2" width="1" height="1.1" fill="#ff5252"/>
<rect x="605" y="632.2" width="1" height="0.7" fill="#ff5252"/>
<rect x="606" y="632.2" width="1" height="0.6" fill="#ffcdd2"/>
<rect x="608" y="631.7" width="1" height="0.5" fill="#26a69a"/>
<rect x="609" y="631.2" width="1" height="1.0" fill="#26a69a"/>
<rect x="610" y="630.9" width="1" height="1.3" fill="#26a69a"/>
<rect x="611" y="630.7" width="1" height="1.5" fill="#26a69a"/>
<rect x="612" y="630.7" width="1" height="1.5" fill="#26a69a"/>
<rect x="613" y="630.5" width="1" height="1.7" fill="#26a69a"/>
<rect x="614" y="630.5" width="1" height="1.7" fill="#26a69a"/>
<rect x="615" y="629.9" width="1" height="2.3" fill="#26a69a"/>
<rect x="616" y="630.1" width="1" height="2.1" fill="#26a69a"/>
<rect x="617" y="630.2" width="1" height="2.0" fill="#26a69a"/>
<rect x="618" y="630.4" width="1" height="1.8" fill="#b2dfdb"/>
<rect x="619" y="630.7" width="1" height="1.5" fill="#26a69a"/>
<rect x="620" y="630.5" width="1" height="1.7" fill="#26a69a"/>
<rect x="621" y="631.0" width="1" height="1.2" fill="#b2dfdb"/>
<rect x="622" y="631.3" width="1" height="0.9" fill="#b2dfdb"/>
<rect x="623" y="631.4" width="1" height="0.8" fill="#b2dfdb"/>
<rect x="624" y="631.7" width="1" height="0.5" fill="#26a69a"/>
<rect x="627" y="632.2" width="1" height="0.7" fill="#ff5252"/>
<rect x="628" y="632.2" width="1" height="1.0" fill="#ff5252"/>
<rect x="629" y="632.2" width="1" height="1.0" fill="#ff5252"/>
<rect x="630" y="632.2" width="1" height="1.2" fill="#ff5252"/>
<rect x="631" y="632.2" width="1" height="1.4" fill="#ff5252"/>
<rect x="632" y="632.2" width="1" height="1.7" fill="#ff5252"/>
<rect x="633" y="632.2" width="1" height="1.3" fill="#ff5252"/>
<rect x="634" y="632.2" width="1" height="0.9" fill="#ff5252"/>
<rect x="635" y="632.2" width="1" height="0.8" fill="#ffcdd2"/>
<rect x="636" y="632.2" width="1" height="0.5" fill="#ff5252"/>
<rect x="637" y="632.2" width="1" height="0.4" fill="#ff5252"/>
<rect x="642" y="631.9" width="1" height="0.3" fill="#26a69a"/>
<rect x="643" y="631.8" width="1" height="0.4" fill="#26a69a"/>
<rect x="644" y="631.7" width="1" height="0.5" fill="#26a69a"/>
<rect x="645" y="631.5" width="1" height="0.7" fill="#26a69a"/>
<rect x="646" y="631.2" width="1" height="1.0" fill="#26a69a"/>
<rect x="647" y="631.3" width="1" height="0.9" fill="#b2dfdb"/>
<rect x="648" y="630.9" width="1" height="1.3" fill="#26a69a"/>
<rect x="649" y="630.8" width="1" height="1.4" fill="#26a69a"/>
<rect x="650" y="630.9" width="1" height="1.3" fill="#b2dfdb"/>
<rect x="651" y="630.9" width="1" height="1.3" fill="#26a69a"/>
<rect x="652" y="631.1" width="1" height="1.1" fill="#b2dfdb"/>
<rect x="653" y="631.1" width="1" height="1.1" fill="#26a69a"/>
<rect x="654" y="631.0" width="1" height="1.2" fill="#26a69a"/>
<rect x="655" y="631.1" width="1" height="1.1" fill="#26a69a"/>
<rect x="656" y="631.0" width="1" height="1.2" fill="#26a69a"/>
<rect x="657" y="630.8" width="1" height="1.4" fill="#26a69a"/>
<rect x="658" y="631.0" width="1" height="1.2" fill="#b2dfdb"/>
<rect x="659" y="630.7" width="1" height="1.5" fill="#26a69a"/>
<rect x="660" y="630.9" width="1" height="1.3" fill="#26a69a"/>
<rect x="661" y="631.1" width="1" height="1.1" fill="#b2dfdb"/>
<rect x="662" y="630.9" width="1" height="1.3" fill="#26a69a"/>
<rect x="663" y="631.0" width="1" height="1.2" fill="#b2dfdb"/>
<rect x="664" y="631.1" width="1" height="1.1" fill="#b2dfdb"/>
<rect x="665" y="631.0" width="1" height="1.2" fill="#26a69a"/>
<rect x="666" y="630.9" width="1" height="1.3" fill="#26a69a"/>
<rect x="667" y="631.0" width="1" height="1.2" fill="#b2dfdb"/>
<rect x="668" y="631.2" width="1" height="1.0" fill="#b2dfdb"/>
<rect x="669" y="631.0" width="1" height="1.2" fill="#26a69a"/>
<rect x="670" y="631.3" width="1" height="0.9" fill="#b2dfdb"/>
<rect x="671" y="631.5" width="1" height="0.7" fill="#26a69a"/>
<rect x="672" y="631.8" width="1" height="0.4" fill="#26a69a"/>
<rect x="675" y="632.2" width="1" height="0.5" fill="#ff5252"/>
<rect x="676" y="632.2" width="1" height="0.5" fill="#ff5252"/>
<rect x="677" y="632.2" width="1" height="0.6" fill="#ff5252"/>
<rect x="678" y="632.2" width="1" height="0.5" fill="#ff5252"/>
<rect x="679" y="632.2" width="1" height="0.5" fill="#ffcdd2"/>
<rect x="680" y="632.2" width="1" height="0.5" fill="#ff5252"/>
<rect x="681" y="632.2" width="1" height="0.6" fill="#ff5252"/>
<rect x="682" y="632.2" width="1" height="0.5" fill="#ffcdd2"/>
<rect x="683" y="632.2" width="1" height="0.6" fill="#ff5252"/>
<rect x="684" y="632.2" width="1" height="0.5" fill="#ffcdd2"/>
<rect x="685" y="632.2" width="1" height="0.6" fill="#ff5252"/>
<rect x="686" y="632.2" width="1" height="0.3" fill="#ff5252"/>
<rect x="688" y="631.8" width="1" height="0.4" fill="#26a69a"/>
<rect x="689" y="631.5" width="1" height="0.7" fill="#26a69a"/>
<rect x="690" y="631.2" width="1" height="1.0" fill="#26a69a"/>
<rect x="691" y="631.2" width="1" height="1.0" fill="#b2dfdb"/>
<rect x="692" y="631.4" width="1" height="0.8" fill="#b2dfdb"/>
<rect x="693" y="631.1" width="1" height="1.1" fill="#26a69a"/>
<rect x="694" y="631.3" width="1" height="0.9" fill="#26a69a"/>
<rect x="695" y="631.4" width="1" height="0.8" fill="#b2dfdb"/>
<rect x="696" y="631.5" width="1" height="0.7" fill="#26a69a"/>
<rect x="697" y="631.3" width="1" height="0.9" fill="#26a69a"/>
<rect x="698" y="631.2" width="1" height="1.0" fill="#26a69a"/>
<rect x="699" y="631.4" width="1" height="0.8" fill="#b2dfdb"/>
<rect x="700" y="631.3" width="1" height="0.9" fill="#26a69a"/>
<rect x="702" y="632.2" width="1" height="0.6" fill="#ff5252"/>
<rect x="703" y="632.2" width="1" height="0.6" fill="#ff5252"/>
<rect x="704" y="632.2" width="1" height="0.6" fill="#ff5252"/>
<rect x="705" y="632.2" width="1" height="0.6" fill="#ff5252"/>
<rect x="706" y="632.2" width="1" height="0.6" fill="#ff5252"/>
<rect x="707" y="632.2" width="1" height="0.6" fill="#ff5252"/>
<rect x="708" y="632.2" width="1" height="0.5" fill="#ffcdd2"/>
<rect x="709" y="632.2" width="1" height="0.5" fill="#ff5252"/>
<rect x="710" y="632.2" width="1" height="0.5" fill="#ffcdd2"/>
<rect x="712" y="631.4" width="1" height="0.8" fill="#26a69a"/>
<rect x="713" y="631.2" width="1" height="1.0" fill="#26a69a"/>
<rect x="714" y="631.3" width="1" height="0.9" fill="#26a69a"/>
<rect x="715" y="631.2" width="1" height="1.0" fill="#26a69a"/>
<rect x="716" y="631.5" width="1" height="0.7" fill="#b2dfdb"/>
<rect x="718" y="632.2" width="1" height="0.7" fill="#ff5252"/>
<rect x="719" y="632.2" width="1" height="0.7" fill="#ffcdd2"/>
<rect x="720" y="632.2" width="1" height="0.7" fill="#ff5252"/>
<rect x="721" y="632.2" width="1" height="0.6" fill="#ffcdd2"/>
<rect x="722" y="632.2" width="1" height="0.7" fill="#ff5252"/>
<rect x="723" y="632.2" width="1" height="0.7" fill="#ff5252"/>
<rect x="724" y="632.2" width="1" height="0.6" fill="#ff5252"/>
<rect x="725" y="632.2" width="1" height="0.7" fill="#ff5252"/>
<rect x="726" y="632.2" width="1" height="0.6" fill="#ffcdd2"/>
<rect x="727" y="632.2" width="1" height="0.6" fill="#ff5252"/>
<rect x="728" y="632.2" width="1" height="0.8" fill="#ff5252"/>
<rect x="729" y="632.2" width="1" height="0.7" fill="#ffcdd2"/>
<rect x="730" y="632.2" width="1" height="0.9" fill="#ff5252"/>
<rect x="731" y="632.2" width="1" height="0.8" fill="#ff5252"/>
<rect x="732" y="632.2" width="1" height="0.7" fill="#ff5252"/>
<rect x="733" y="632.2" width="1" height="0.7" fill="#ff5252"/>
<rect x="734" y="632.2" width="1" height="0.8" fill="#ff5252"/>
<rect x="735" y="632.2" width="1" height="0.8" fill="#ff5252"/>
<rect x="736" y="632.2" width="1" height="0.6" fill="#ff5252"/>
<rect x="737" y="632.2" width="1" height="0.6" fill="#ffcdd2"/>
<rect x="738" y="632.2" width="1" height="0.6" fill="#ffcdd2"/>
<rect x="739" y="632.2" width="1" height="0.7" fill="#ff5252"/>
<rect x="740" y="632.2" width="1" height="0.5" fill="#ffcdd2"/>
<rect x="741" y="632.2" width="1" height="0.6" fill="#ff5252"/>
<rect x="742" y="632.2" width="1" height="0.6" fill="#ff5252"/>
<rect x="743" y="632.2" width="1" height="0.6" fill="#ffcdd2"/>
<rect x="744" y="632.2" width="1" height="0.5" fill="#ff5252"/>
<rect x="745" y="632.2" width="1" height="0.4" fill="#ffcdd2"/>
<rect x="746" y="631.0" width="1" height="1.2" fill="#26a69a"/>
<rect x="747" y="631.0" width="1" height="1.2" fill="#b2dfdb"/>
<rect x="748" y="630.8" width="1" height="1.4" fill="#26a69a"/>
<rect x="749" y="630.9" width="1" height="1.3" fill="#26a69a"/>
<rect x="750" y="630.7" width="1" height="1.5" fill="#26a69a"/>
<rect x="751" y="630.7" width="1" height="1.5" fill="#b2dfdb"/>
<rect x="752" y="630.9" width="1" height="1.3" fill="#b2dfdb"/>
<rect x="753" y="630.5" width="1" height="1.7" fill="#26a69a"/>
<rect x="754" y="630.5" width="1" height="1.7" fill="#26a69a"/>
<rect x="755" y="630.1" width="1" height="2.1" fill="#26a69a"/>
<rect x="756" y="630.2" width="1" height="2.0" fill="#b2dfdb"/>
<rect x="757" y="630.5" width="1" height="1.7" fill="#b2dfdb"/>
<rect x="758" y="630.2" width="1" height="2.0" fill="#26a69a"/>
<rect x="759" y="630.5" width="1" height="1.7" fill="#b2dfdb"/>
<rect x="760" y="630.2" width="1" height="2.0" fill="#26a69a"/>
<rect x="761" y="630.2" width="1" height="2.0" fill="#26a69a"/>
<rect x="762" y="630.2" width="1" height="2.0" fill="#26a69a"/>
<rect x="763" y="630.5" width="1" height="1.7" fill="#b2dfdb"/>
<rect x="764" y="630.1" width="1" height="2.1" fill="#26a69a"/>
<rect x="765" y="630.2" width="1" height="2.0" fill="#26a69a"/>
<rect x="766" y="630.2" width="1" height="2.0" fill="#b2dfdb"/>
<rect x="767" y="630.9" width="1" height="1.3" fill="#b2dfdb"/>
<rect x="768" y="630.7" width="1" height="1.5" fill="#26a69a"/>
<rect x="769" y="630.8" width="1" height="1.4" fill="#b2dfdb"/>
<rect x="770" y="631.2" width="1" height="1.0" fill="#b2dfdb"/>
<rect x="771" y="632.2" width="1" height="2.5" fill="#ff5252"/>
<rect x="772" y="632.2" width="1" height="1.7" fill="#ffcdd2"/>
<rect x="773" y="632.2" width="1" height="1.8" fill="#ff5252"/>
<rect x="774" y="632.2" width="1" height="1.8" fill="#ff5252"/>
<rect x="775" y="632.2" width="1" height="1.4" fill="#ffcdd2"/>
<rect x="776" y="632.2" width="1" height="1.2" fill="#ff5252"/>
<rect x="777" y="632.2" width="1" height="1.5" fill="#ff5252"/>
<rect x="778" y="632.2" width="1" height="1.2" fill="#ffcdd2"/>
<rect x="779" y="632.2" width="1" height="1.0" fill="#ff5252"/>
<rect x="780" y="632.2" width="1" height="0.9" fill="#ffcdd2"/>
<rect x="781" y="632.2" width="1" height="1.0" fill="#ff5252"/>
<rect x="782" y="632.2" width="1" height="0.8" fill="#ffcdd2"/>
<rect x="783" y="632.2" width="1" height="0.6" fill="#ff5252"/>
<rect x="784" y="632.2" width="1" height="0.6" fill="#ffcdd2"/>
<rect x="785" y="632.2" width="1" height="0.4" fill="#ffcdd2"/>
<rect x="788" y="631.6" width="1" height="0.6" fill="#26a69a"/>
<rect x="789" y="631.4" width="1" height="0.8" fill="#26a69a"/>
<rect x="790" y="630.7" width="1" height="1.5" fill="#26a69a"/>
<rect x="791" y="630.9" width="1" height="1.3" fill="#26a69a"/>
<rect x="792" y="631.1" width="1" height="1.1" fill="#b2dfdb"/>
<rect x="793" y="630.7" width="1" height="1.5" fill="#26a69a"/>
<rect x="794" y="630.7" width="1" height="1.5" fill="#26a69a"/>
<rect x="795" y="630.7" width="1" height="1.5" fill="#26a69a"/>
<rect x="796" y="631.0" width="1" height="1.2" fill="#b2dfdb"/>
<rect x="797" y="630.6" width="1" height="1.6" fill="#26a69a"/>
<rect x="798" y="630.7" width="1" height="1.5" fill="#26a69a"/>
<rect x="799" y="630.5" width="1" height="1.7" fill="#26a69a"/>
<rect x="800" y="630.8" width="1" height="1.4" fill="#26a69a"/>
<rect x="801" y="630.7" width="1" height="1.5" fill="#26a69a"/>
<rect x="802" y="630.9" width="1" height="1.3" fill="#26a69a"/>
<rect x="803" y="630.9" width="1" height="1.3" fill="#b2dfdb"/>
<rect x="804" y="630.8" width="1" height="1.4" fill="#26a69a"/>
<rect x="805" y="630.6" width="1" height="1.6" fill="#26a69a"/>
<rect x="806" y="630.8" width="1" height="1.4" fill="#b2dfdb"/>
<rect x="807" y="630.9" width="1" height="1.3" fill="#26a69a"/>
<rect x="808" y="630.6" width="1" height="1.6" fill="#26a69a"/>
<rect x="809" y="630.7" width="1" height="1.5" fill="#26a69a"/>
<rect x="810" y="630.6" width="1" height="1.6" fill="#26a69a"/>
<rect x="811" y="631.0" width="1" height="1.2" fill="#b2dfdb"/>
<rect x="812" y="631.1" width="1" height="1.1" fill="#26a69a"/>
<rect x="813" y="630.7" width="1" height="1.5" fill="#26a69a"/>
<rect x="814" y="631.2" width="1" height="1.0" fill="#26a69a"/>
<rect x="815" y="630.9" width="1" height="1.3" fill="#26a69a"/>
<rect x="816" y="631.3" width="1" height="0.9" fill="#b2dfdb"/>
<rect x="817" y="631.9" width="1" height="0.3" fill="#26a69a"/>
<rect x="819" y="632.2" width="1" height="0.6" fill="#ff5252"/>
<rect x="820" y="632.2" width="1" height="1.1" fill="#ff5252"/>
<rect x="821" y="632.2" width="1" height="1.1" fill="#ff5252"/>
<rect x="822" y="632.2" width="1" height="1.0" fill="#ffcdd2"/>
<rect x="823" y="632.2" width="1" height="0.9" fill="#ffcdd2"/>
<rect x="824" y="632.2" width="1" height="1.0" fill="#ff5252"/>
<rect x="825" y="632.2" width="1" height="0.8" fill="#ffcdd2"/>
<rect x="826" y="632.2" width="1" height="0.7" fill="#ff5252"/>
<rect x="827" y="632.2" width="1" height="0.9" fill="#ff5252"/>
<rect x="828" y="632.2" width="1" height="0.8" fill="#ffcdd2"/>
<rect x="829" y="632.2" width="1" height="0.7" fill="#ff5252"/>
<rect x="830" y="632.2" width="1" height="0.8" fill="#ff5252"/>
<rect x="831" y="632.2" width="1" height="0.9" fill="#ff5252"/>
<rect x="832" y="632.2" width="1" height="0.7" fill="#ff5252"/>
<rect x="833" y="632.2" width="1" height="0.5" fill="#ffcdd2"/>
<rect x="836" y="631.8" width="1" height="0.4" fill="#26a69a"/>
<rect x="837" y="631.5" width="1" height="0.7" fill="#26a69a"/>
<rect x="838" y="631.3" width="1" height="0.9" fill="#26a69a"/>
<rect x="839" y="631.1" width="1" height="1.1" fill="#26a69a"/>
<rect x="840" y="631.3" width="1" height="0.9" fill="#26a69a"/>
<rect x="841" y="631.1" width="1" height="1.1" fill="#26a69a"/>
<rect x="842" y="631.3" width="1" height="0.9" fill="#26a69a"/>
<rect x="843" y="631.0" width="1" height="1.2" fill="#26a69a"/>
<rect x="844" y="631.3" width="1" height="0.9" fill="#b2dfdb"/>
<rect x="845" y="631.1" width="1" height="1.1" fill="#26a69a"/>
<rect x="846" y="631.1" width="1" height="1.1" fill="#26a69a"/>
<rect x="847" y="631.1" width="1" height="1.1" fill="#26a69a"/>
<rect x="848" y="631.2" width="1" height="1.0" fill="#b2dfdb"/>
<rect x="849" y="631.2" width="1" height="1.0" fill="#26a69a"/>
<rect x="850" y="631.3" width="1" height="0.9" fill="#b2dfdb"/>
<rect x="851" y="631.4" width="1" height="0.8" fill="#b2dfdb"/>
<rect x="852" y="631.7" width="1" height="0.5" fill="#26a69a"/>
<rect x="855" y="632.2" width="1" height="0.3" fill="#ff5252"/>
<rect x="859" y="631.9" width="1" height="0.3" fill="#26a69a"/>
<rect x="860" y="631.7" width="1" height="0.5" fill="#26a69a"/>
<rect x="861" y="631.6" width="1" height="0.6" fill="#26a69a"/>
<rect x="862" y="631.4" width="1" height="0.8" fill="#26a69a"/>
<rect x="863" y="631.6" width="1" height="0.6" fill="#b2dfdb"/>
<rect x="864" y="631.4" width="1" height="0.8" fill="#26a69a"/>
<rect x="865" y="631.5" width="1" height="0.7" fill="#b2dfdb"/>
<rect x="866" y="631.5" width="1" height="0.7" fill="#b2dfdb"/>
<rect x="867" y="631.5" width="1" height="0.7" fill="#26a69a"/>
<rect x="868" y="631.6" width="1" height="0.6" fill="#b2dfdb"/>
<rect x="869" y="631.5" width="1" height="0.7" fill="#26a69a"/>
<rect x="870" y="631.5" width="1" height="0.7" fill="#26a69a"/>
<rect x="871" y="631.9" width="1" height="0.3" fill="#26a69a"/>
<rect x="875" y="632.2" width="1" height="0.4" fill="#ff5252"/>
<rect x="883" y="631.9" width="1" height="0.3" fill="#26a69a"/>
<rect x="884" y="631.8" width="1" height="0.4" fill="#26a69a"/>
<rect x="885" y="631.8" width="1" height="0.4" fill="#26a69a"/>
<rect x="886" y="631.8" width="1" height="0.4" fill="#b2dfdb"/>
<rect x="887" y="631.9" width="1" height="0.3" fill="#26a69a"/>
<rect x="894" y="632.2" width="1" height="0.3" fill="#ff5252"/>
<rect x="895" y="632.2" width="1" height="0.4" fill="#ff5252"/>
<rect x="904" y="631.7" width="1" height="0.5" fill="#26a69a"/>
<rect x="905" y="631.6" width="1" height="0.6" fill="#26a69a"/>
<rect x="906" y="631.7" width="1" height="0.5" fill="#b2dfdb"/>
<rect x="907" y="631.7" width="1" height="0.5" fill="#b2dfdb"/>
<rect x="908" y="631.6" width="1" height="0.6" fill="#26a69a"/>
<rect x="909" y="631.6" width="1" height="0.6" fill="#26a69a"/>
<rect x="910" y="631.5" width="1" height="0.7" fill="#26a69a"/>
<rect x="911" y="631.6" width="1" height="0.6" fill="#26a69a"/>
<rect x="912" y="631.5" width="1" height="0.7" fill="#26a69a"/>
<rect x="913" y="631.5" width="1" height="0.7" fill="#26a69a"/>
<rect x="914" y="631.3" width="1" height="0.9" fill="#26a69a"/>
<rect x="915" y="631.0" width="1" height="1.2" fill="#26a69a"/>
<rect x="916" y="630.8" width="1" height="1.4" fill="#26a69a"/>
<rect x="917" y="630.7" width="1" height="1.5" fill="#26a69a"/>
<rect x="918" y="630.6" width="1" height="1.6" fill="#26a69a"/>
<rect x="919" y="630.3" width="1" height="1.9" fill="#26a69a"/>
<rect x="920" y="630.3" width="1" height="1.9" fill="#26a69a"/>
<rect x="921" y="630.1" width="1" height="2.1" fill="#26a69a"/>
<rect x="922" y="629.3" width="1" height="2.9" fill="#26a69a"/>
<rect x="923" y="629.2" width="1" height="3.0" fill="#26a69a"/>
<rect x="924" y="629.1" width="1" height="3.1" fill="#26a69a"/>
<rect x="925" y="628.7" width="1" height="3.5" fill="#26a69a"/>
<rect x="926" y="628.3" width="1" height="3.9" fill="#26a69a"/>
<rect x="927" y="627.9" width="1" height="4.3" fill="#26a69a"/>
<rect x="928" y="627.1" width="1" height="5.1" fill="#26a69a"/>
<rect x="929" y="627.6" width="1" height="4.6" fill="#b2dfdb"/>
<rect x="930" y="627.8" width="1" height="4.4" fill="#b2dfdb"/>
<rect x="931" y="628.2" width="1" height="4.0" fill="#b2dfdb"/>
<rect x="932" y="629.5" width="1" height="2.7" fill="#b2dfdb"/>
<line x1="933" y1="632.2" x2="1141" y2="632.2" stroke="#b2b2b6" stroke-width="1" stroke-dasharray="4 3.6"/>
<clipPath id="mp"><rect x="10.8" y="588" width="1130" height="98"/></clipPath>
<g clip-path="url(#mp)">
<path d="M9.5 678.0C9.7 676.8 10.1 673.7 10.9 671.0C11.7 668.3 12.9 664.5 14.2 661.9C15.4 659.3 16.9 657.4 18.4 655.2C19.9 653.0 21.6 650.7 23.4 648.5C25.2 646.3 27.4 643.6 29.2 641.8C31.0 640.0 32.5 639.7 34.2 637.7C35.9 635.8 37.7 632.0 39.2 630.1C40.7 628.2 41.9 626.6 43.4 626.5C44.9 626.4 46.5 628.5 48.4 629.3C50.3 630.0 52.5 630.3 55.0 631.0C57.5 631.7 61.4 633.1 63.4 633.5C65.4 633.9 65.4 634.1 66.8 633.5C68.2 632.9 70.3 630.9 71.8 630.1C73.3 629.3 74.9 630.2 76.0 628.5C77.1 626.8 77.5 623.0 78.5 620.1C79.5 617.2 80.4 613.4 81.8 611.0C83.2 608.6 85.1 607.7 86.8 606.0C88.5 604.3 90.5 601.6 91.8 601.0C93.0 600.4 93.5 600.3 94.3 602.6C95.1 604.9 95.8 610.7 96.8 615.0C97.8 619.3 99.0 624.3 100.0 628.5C101.0 632.7 101.7 638.3 102.7 640.0C103.7 641.7 104.8 639.3 106.0 638.5C107.2 637.7 108.7 636.8 110.2 635.0C111.7 633.2 113.8 629.1 115.2 627.6C116.6 626.1 117.2 627.8 118.5 626.0C119.8 624.2 121.3 617.9 122.7 616.8C124.1 615.7 125.8 618.3 126.9 619.3C128.0 620.3 128.6 623.1 129.4 622.6C130.2 622.1 131.1 615.8 131.9 616.5C132.7 617.2 133.6 623.4 134.4 626.8C135.2 630.2 135.9 636.2 136.9 636.8C137.9 637.3 138.8 632.0 140.2 630.1C141.6 628.2 143.8 625.9 145.2 625.1C146.6 624.3 147.6 623.7 148.6 625.1C149.6 626.5 150.2 628.5 151.0 633.5C151.8 638.5 152.8 651.2 153.6 655.2C154.4 659.2 155.2 657.7 156.0 657.7C156.8 657.7 157.8 657.9 158.6 655.2C159.4 652.6 160.0 645.1 161.0 641.8C162.0 638.4 163.3 636.2 164.4 635.1C165.5 634.0 166.7 634.1 167.8 635.1C168.9 636.1 169.9 639.4 171.0 641.0C172.1 642.6 173.4 645.1 174.5 644.8C175.6 644.5 176.7 640.9 177.8 639.3C178.9 637.7 179.8 635.5 181.0 635.1C182.2 634.7 184.0 636.1 185.3 636.8C186.6 637.5 187.2 639.6 188.6 639.3C190.0 639.0 191.9 636.8 193.7 635.1C195.5 633.4 198.4 630.0 199.5 629.3C200.6 628.6 199.4 631.9 200.0 630.9C200.6 629.9 201.9 624.3 203.3 623.0C204.7 621.7 206.8 622.5 208.3 623.0C209.8 623.5 211.1 625.4 212.5 625.9C213.9 626.4 215.4 625.5 216.7 625.9C217.9 626.2 218.9 629.1 220.0 628.0C221.1 626.9 222.6 620.7 223.4 619.2C224.2 617.7 224.2 618.0 225.0 619.2C225.8 620.5 227.3 624.7 228.4 626.7C229.5 628.7 230.6 631.5 231.7 631.4C232.8 631.3 233.8 627.0 235.0 625.9C236.2 624.8 237.7 625.0 239.2 624.7C240.7 624.4 242.9 627.2 244.2 624.2C245.4 621.2 245.9 611.2 246.7 606.7C247.5 602.2 248.3 598.0 249.2 597.5C250.0 597.0 251.1 601.3 251.8 603.4C252.5 605.5 252.6 607.8 253.4 610.0C254.2 612.2 255.7 614.0 256.8 616.7C257.9 619.4 259.0 624.3 260.0 626.4C261.0 628.5 262.2 631.7 263.0 629.2C263.8 626.8 264.1 613.9 265.0 611.7C265.9 609.5 267.4 612.9 268.4 615.9C269.4 618.9 270.0 625.5 271.0 630.0C272.0 634.5 273.3 640.0 274.3 642.6C275.3 645.2 276.0 646.6 276.8 645.9C277.6 645.2 278.5 643.0 279.3 638.4C280.1 633.8 281.1 623.1 281.8 618.4C282.5 613.7 283.0 611.1 283.5 610.0C284.0 608.9 284.2 613.1 285.0 611.7C285.8 610.3 287.5 601.7 288.5 601.7C289.5 601.7 290.2 607.1 291.0 611.7C291.8 616.3 292.7 626.3 293.5 629.2C294.3 632.1 295.2 627.1 296.0 629.2C296.8 631.3 297.7 636.7 298.5 641.8C299.3 646.9 300.2 655.8 301.0 660.0C301.8 664.2 302.5 666.6 303.2 667.0C303.9 667.4 304.3 665.7 305.2 662.6C306.1 659.5 307.5 651.4 308.5 648.4C309.5 645.4 309.9 645.2 311.0 644.8C312.1 644.4 313.7 644.8 315.2 646.0C316.7 647.2 318.5 651.7 319.9 651.8C321.3 651.9 322.2 647.5 323.5 646.8C324.8 646.1 326.3 648.2 327.7 647.6C329.1 647.0 330.5 645.8 331.9 643.4C333.3 641.0 334.6 636.5 336.0 633.4C337.4 630.3 339.1 626.8 340.2 625.0C341.3 623.2 341.7 622.0 342.7 622.6C343.7 623.2 344.9 626.3 346.0 628.4C347.1 630.5 348.3 633.8 349.4 635.0C350.4 636.2 351.3 636.5 352.3 635.6C353.3 634.7 354.1 629.8 355.3 629.7C356.5 629.6 358.1 634.4 359.4 635.0C360.6 635.6 361.8 632.1 362.8 633.4C363.8 634.7 364.5 640.2 365.3 642.6C366.1 645.0 367.0 646.4 367.8 647.6C368.6 648.8 369.3 650.0 370.3 650.0C371.3 650.0 372.4 649.0 373.6 647.6C374.9 646.2 376.4 643.2 377.8 641.8C379.2 640.4 380.3 638.9 382.0 639.3C383.7 639.7 385.9 644.3 387.8 644.3C389.8 644.3 392.0 640.8 393.7 639.3C395.4 637.8 396.8 636.1 397.8 635.0C398.9 633.9 399.0 633.8 400.0 632.7C401.0 631.7 402.5 630.2 404.0 628.7C405.5 627.2 407.2 624.0 408.9 623.4C410.5 622.8 411.8 624.6 413.9 625.3C416.0 626.0 420.0 626.6 421.8 627.7C423.6 628.8 424.0 630.5 424.8 631.7C425.6 633.0 425.7 634.6 426.7 635.2C427.7 635.9 428.5 636.0 430.7 635.6C432.9 635.2 437.0 632.7 439.6 632.7C442.2 632.7 443.5 635.3 446.5 635.6C449.5 635.9 454.3 635.4 457.4 634.7C460.5 634.1 462.8 632.4 465.3 631.7C467.8 631.0 470.5 630.1 472.3 630.7C474.1 631.3 474.9 634.1 476.2 635.2C477.5 636.4 478.7 637.8 480.2 637.6C481.7 637.4 483.1 634.9 485.1 634.0C487.1 633.1 489.5 632.3 492.1 632.3C494.8 632.3 498.2 633.9 501.0 634.0C503.8 634.1 506.8 633.8 508.9 632.7C511.0 631.7 512.2 629.2 513.9 627.7C515.5 626.2 517.1 624.3 518.8 623.8C520.4 623.3 522.1 624.1 523.8 624.8C525.4 625.4 527.4 627.0 528.7 627.7C530.0 628.5 530.6 629.4 531.7 629.3C532.9 629.2 534.1 627.0 535.6 627.3C537.1 627.6 538.8 630.1 540.6 631.3C542.4 632.5 544.2 634.5 546.5 634.7C548.8 634.9 551.9 633.3 554.5 632.7C557.1 632.1 560.1 631.9 562.4 631.3C564.7 630.7 566.3 629.2 568.3 629.3C570.3 629.4 571.6 630.9 574.3 631.7C576.9 632.5 580.6 633.9 584.2 634.0C587.8 634.1 592.5 632.0 596.0 632.3C599.5 632.6 602.2 635.5 605.0 635.6C607.8 635.7 610.1 633.7 612.9 632.7C615.7 631.7 619.3 630.0 621.8 629.7C624.3 629.4 625.7 630.0 627.7 630.7C629.7 631.4 631.7 633.5 633.7 634.0C635.8 634.5 637.8 633.5 640.0 633.7C642.2 633.9 643.6 635.4 646.9 635.2C650.2 635.0 656.2 633.5 659.8 632.7C663.4 631.9 665.4 630.4 668.7 630.3C672.0 630.2 675.5 632.3 679.6 632.1C683.7 631.9 689.5 629.4 693.5 629.3C697.5 629.2 700.3 631.2 703.4 631.3C706.5 631.4 709.0 629.7 712.3 629.7C715.6 629.7 720.1 630.7 723.2 631.3C726.3 631.9 728.1 632.7 731.1 633.1C734.1 633.5 737.7 634.0 741.0 633.7C744.3 633.4 747.6 632.1 750.9 631.3C754.2 630.5 758.2 629.5 760.8 628.7C763.4 627.9 765.1 626.1 766.7 626.3C768.4 626.5 769.4 628.8 770.7 629.7C772.0 630.6 772.7 631.2 774.7 631.7C776.7 632.2 780.3 632.0 782.6 632.7C784.9 633.4 785.9 635.8 788.5 636.0C791.1 636.2 795.1 634.7 798.4 634.0C801.7 633.3 805.6 632.2 808.3 631.7C810.9 631.2 812.3 630.7 814.3 630.7C816.3 630.7 818.4 631.2 820.2 631.7C822.0 632.2 822.5 633.7 825.1 634.0C827.7 634.3 832.5 633.7 836.0 633.3C839.5 632.9 842.6 631.9 845.9 631.7C849.2 631.5 852.8 632.3 855.8 632.1C858.8 631.9 861.1 630.4 863.8 630.3C866.4 630.2 869.0 631.4 871.7 631.7C874.4 632.0 877.0 632.1 880.0 632.1C883.0 632.1 886.7 631.6 890.0 631.6C893.3 631.6 896.7 632.3 900.0 632.3C903.3 632.3 907.7 631.9 910.0 631.8C912.3 631.7 912.7 631.8 914.0 631.5C915.3 631.2 916.7 630.7 918.0 630.0C919.3 629.3 920.7 628.9 922.0 627.5C923.3 626.1 924.9 623.0 926.0 621.5C927.1 620.0 927.7 619.2 928.5 618.7C929.3 618.2 930.6 618.4 931.0 618.3" fill="none" stroke="#3f6ff5" stroke-width="1.5" stroke-linejoin="round" stroke-linecap="round"/>
<path d="M9.5 683.0C10.2 680.8 12.2 673.5 13.4 670.0C14.6 666.5 15.3 664.6 16.7 661.9C18.1 659.1 19.9 656.1 21.7 653.5C23.5 650.9 25.6 648.2 27.5 646.0C29.4 643.8 31.4 642.4 33.4 640.2C35.4 638.0 37.4 634.6 39.2 632.6C41.0 630.6 42.4 628.5 44.2 628.0C46.0 627.5 47.6 628.7 50.0 629.3C52.4 629.9 55.7 630.8 58.4 631.5C61.1 632.2 63.8 633.6 66.0 633.5C68.2 633.4 70.0 631.7 71.8 631.0C73.6 630.3 75.4 630.8 76.8 629.3C78.2 627.8 78.8 624.7 80.1 621.8C81.3 618.9 82.8 614.6 84.3 611.8C85.8 609.0 87.9 606.7 89.3 605.1C90.7 603.5 91.6 602.0 92.7 602.0C93.8 602.0 94.9 602.8 96.0 605.1C97.1 607.4 98.2 612.1 99.3 616.0C100.4 619.9 101.5 625.1 102.7 628.5C104.0 631.9 105.3 635.4 106.8 636.5C108.3 637.6 110.2 636.4 111.9 635.1C113.6 633.8 115.5 630.3 116.9 628.5C118.3 626.7 119.0 626.0 120.2 624.3C121.5 622.6 123.0 618.8 124.4 618.5C125.8 618.2 127.1 622.3 128.5 622.6C129.9 622.9 131.4 619.5 132.7 620.5C133.9 621.5 135.0 626.5 136.0 628.5C137.0 630.5 137.5 632.5 138.6 632.6C139.7 632.7 141.2 630.4 142.7 629.3C144.2 628.2 146.3 626.1 147.7 626.0C149.1 625.9 149.9 625.3 151.0 628.5C152.1 631.7 153.3 641.0 154.4 645.2C155.5 649.4 156.3 653.0 157.3 653.5C158.3 654.0 159.2 651.0 160.3 648.5C161.4 646.0 162.5 640.6 163.6 638.5C164.7 636.4 165.8 635.9 167.0 636.0C168.2 636.1 169.8 638.2 171.0 639.3C172.2 640.4 173.2 642.8 174.5 642.7C175.8 642.6 177.2 639.8 178.6 638.5C180.0 637.2 181.3 635.1 182.8 635.1C184.3 635.1 186.0 638.3 187.8 638.2C189.6 638.1 191.8 635.6 193.7 634.3C195.6 632.9 198.4 630.5 199.5 630.1C200.6 629.7 199.2 632.6 200.0 631.7C200.8 630.9 202.7 626.3 204.2 625.0C205.7 623.7 207.5 623.6 209.2 623.7C210.9 623.9 212.4 625.4 214.2 625.9C216.0 626.4 218.3 627.4 220.0 626.7C221.7 626.0 222.8 622.0 224.2 621.7C225.6 621.4 227.0 623.8 228.4 625.0C229.8 626.2 231.2 629.1 232.6 629.2C234.0 629.4 234.8 626.6 236.7 625.9C238.6 625.2 242.4 627.2 244.2 625.0C246.0 622.8 246.5 616.0 247.6 612.5C248.7 609.0 249.8 605.2 250.9 604.2C252.0 603.2 253.2 605.0 254.3 606.7C255.4 608.4 256.5 611.7 257.6 614.2C258.7 616.7 259.9 619.9 260.9 621.7C261.9 623.5 262.6 625.7 263.4 625.0C264.2 624.3 265.1 618.9 265.9 617.5C266.7 616.1 267.5 615.9 268.4 616.7C269.2 617.6 270.0 619.8 271.0 622.6C272.0 625.4 273.2 630.4 274.3 633.4C275.4 636.4 276.7 640.3 277.6 640.9C278.6 641.5 279.2 639.4 280.0 636.7C280.8 634.1 281.8 628.2 282.6 625.0C283.4 621.8 284.2 619.6 285.0 617.5C285.8 615.4 286.8 614.0 287.6 612.5C288.4 611.0 289.2 607.4 290.0 608.4C290.8 609.4 291.6 615.5 292.6 618.4C293.6 621.3 295.0 623.4 296.0 625.9C297.0 628.4 297.7 629.6 298.5 633.4C299.3 637.1 300.2 644.2 301.0 648.4C301.8 652.6 302.8 656.3 303.5 658.4C304.2 660.5 304.5 661.3 305.2 661.0C305.9 660.7 306.7 659.0 307.7 656.8C308.7 654.6 309.8 649.3 311.0 647.6C312.2 645.9 313.7 646.0 315.2 646.4C316.7 646.8 318.5 649.8 320.2 650.0C321.9 650.2 323.4 648.1 325.2 647.6C327.0 647.1 329.2 648.3 331.0 646.8C332.8 645.3 334.5 641.3 336.0 638.4C337.5 635.5 338.9 631.4 340.2 629.2C341.5 627.0 342.5 625.3 343.6 625.0C344.7 624.7 345.8 626.2 346.9 627.6C348.0 629.0 349.2 632.4 350.3 633.4C351.4 634.4 352.7 633.7 353.6 633.4C354.6 633.1 354.9 631.6 356.0 631.7C357.1 631.8 358.9 633.7 360.3 634.2C361.7 634.8 363.1 633.5 364.4 635.0C365.6 636.5 366.5 641.2 367.8 643.4C369.1 645.6 370.8 647.8 372.0 648.4C373.2 649.0 373.9 647.9 375.3 646.8C376.7 645.7 378.9 642.9 380.3 641.8C381.7 640.7 382.2 639.7 383.6 640.0C385.0 640.3 386.8 643.5 388.6 643.4C390.4 643.3 392.6 640.8 394.5 639.3C396.4 637.8 398.1 636.5 400.0 634.7C401.9 632.9 404.0 630.4 406.0 628.7C408.0 627.1 409.6 625.1 411.9 624.8C414.2 624.5 417.6 625.9 419.8 626.7C422.0 627.5 423.5 628.5 424.8 629.7C426.1 630.9 426.4 633.1 427.7 634.0C429.0 634.9 430.5 635.2 432.7 635.0C434.9 634.8 438.0 633.0 440.6 633.0C443.2 633.0 445.4 635.0 448.5 635.2C451.6 635.4 456.3 634.8 459.4 634.3C462.5 633.8 465.0 632.4 467.3 632.0C469.6 631.6 471.7 631.2 473.3 631.7C474.9 632.2 475.9 633.9 477.2 634.7C478.5 635.5 479.5 636.8 481.2 636.6C482.9 636.4 485.0 634.4 487.1 633.7C489.2 633.1 491.5 632.7 494.0 632.7C496.5 632.7 499.4 633.7 502.0 633.7C504.6 633.7 507.6 633.6 509.9 632.7C512.2 631.8 513.8 629.5 515.8 628.1C517.8 626.7 519.8 624.7 521.8 624.4C523.8 624.1 525.7 625.5 527.7 626.1C529.7 626.7 532.1 627.8 533.7 628.1C535.4 628.4 536.1 627.6 537.6 628.1C539.1 628.6 540.8 630.4 542.6 631.3C544.4 632.2 546.2 633.5 548.5 633.7C550.8 633.9 553.8 633.0 556.4 632.7C559.0 632.4 562.1 632.1 564.4 631.7C566.7 631.3 568.3 630.0 570.3 630.1C572.3 630.2 573.6 631.5 576.2 632.1C578.8 632.7 582.5 633.6 586.1 633.7C589.7 633.8 594.5 632.5 598.0 632.7C601.5 632.9 604.1 635.0 606.9 635.0C609.7 635.0 612.1 633.5 614.9 632.7C617.7 631.9 621.3 630.5 623.8 630.3C626.3 630.1 627.7 630.7 629.7 631.3C631.7 631.9 633.9 633.2 635.6 633.7C637.3 634.2 637.9 633.8 640.0 634.0C642.1 634.2 644.5 634.8 648.0 634.7C651.5 634.6 657.2 633.8 661.0 633.2C664.8 632.6 667.7 631.2 671.0 631.0C674.3 630.8 677.0 632.0 681.0 631.8C685.0 631.6 691.0 630.0 695.0 629.9C699.0 629.8 701.8 630.9 705.0 630.9C708.2 630.9 710.7 630.1 714.0 630.1C717.3 630.1 721.8 630.6 725.0 631.0C728.2 631.4 730.0 632.3 733.0 632.7C736.0 633.1 739.7 633.6 743.0 633.5C746.3 633.4 749.8 632.5 753.0 631.9C756.2 631.3 759.5 630.5 762.0 629.7C764.5 628.9 766.3 627.4 768.0 627.3C769.7 627.2 770.5 628.4 772.0 629.0C773.5 629.6 775.0 630.4 777.0 630.9C779.0 631.4 781.8 631.4 784.0 632.1C786.2 632.8 787.3 634.7 790.0 635.0C792.7 635.3 796.7 634.5 800.0 634.0C803.3 633.5 807.3 632.6 810.0 632.1C812.7 631.6 814.0 631.2 816.0 631.1C818.0 631.0 820.2 631.1 822.0 631.5C823.8 631.9 824.3 633.0 827.0 633.3C829.7 633.6 834.5 633.3 838.0 633.1C841.5 632.9 844.8 632.2 848.0 632.0C851.2 631.8 854.2 632.2 857.0 632.0C859.8 631.8 862.3 631.0 865.0 630.9C867.7 630.8 870.5 631.3 873.0 631.5C875.5 631.7 877.2 632.0 880.0 632.0C882.8 632.0 886.7 631.8 890.0 631.8C893.3 631.8 896.7 632.2 900.0 632.2C903.3 632.2 907.5 632.1 910.0 632.0C912.5 631.9 913.5 632.0 915.0 631.8C916.5 631.6 917.7 631.3 919.0 630.8C920.3 630.3 921.7 630.0 923.0 629.0C924.3 628.0 925.9 625.9 927.0 624.5C928.1 623.1 928.8 621.4 929.5 620.5C930.2 619.6 931.2 619.2 931.5 619.0" fill="none" stroke="#f8771d" stroke-width="1.5" stroke-linejoin="round" stroke-linecap="round"/>
</g>
<text x="1148.9" y="72.80000000000001" font-size="12" fill="#131722" stroke="#131722" stroke-width="0.28" font-weight="normal" text-anchor="start" font-family="Liberation Sans, sans-serif"  textLength="35.8" lengthAdjust="spacingAndGlyphs">7.0000</text>
<text x="1148.9" y="126.4" font-size="12" fill="#131722" stroke="#131722" stroke-width="0.28" font-weight="normal" text-anchor="start" font-family="Liberation Sans, sans-serif"  textLength="35.8" lengthAdjust="spacingAndGlyphs">6.0000</text>
<text x="1148.9" y="180.0" font-size="12" fill="#131722" stroke="#131722" stroke-width="0.28" font-weight="normal" text-anchor="start" font-family="Liberation Sans, sans-serif"  textLength="35.8" lengthAdjust="spacingAndGlyphs">5.0000</text>
<text x="1148.9" y="233.6" font-size="12" fill="#131722" stroke="#131722" stroke-width="0.28" font-weight="normal" text-anchor="start" font-family="Liberation Sans, sans-serif"  textLength="35.8" lengthAdjust="spacingAndGlyphs">4.0000</text>
<text x="1148.9" y="287.09999999999997" font-size="12" fill="#131722" stroke="#131722" stroke-width="0.28" font-weight="normal" text-anchor="start" font-family="Liberation Sans, sans-serif"  textLength="35.8" lengthAdjust="spacingAndGlyphs">3.0000</text>
<text x="1148.9" y="341.2" font-size="12" fill="#131722" stroke="#131722" stroke-width="0.28" font-weight="normal" text-anchor="start" font-family="Liberation Sans, sans-serif"  textLength="35.8" lengthAdjust="spacingAndGlyphs">2.0000</text>
<text x="1148.9" y="394.7" font-size="12" fill="#131722" stroke="#131722" stroke-width="0.28" font-weight="normal" text-anchor="start" font-family="Liberation Sans, sans-serif"  textLength="35.8" lengthAdjust="spacingAndGlyphs">1.0000</text>
<text x="1148.9" y="448.0" font-size="12" fill="#131722" stroke="#131722" stroke-width="0.28" font-weight="normal" text-anchor="start" font-family="Liberation Sans, sans-serif"  textLength="35.8" lengthAdjust="spacingAndGlyphs">0.0000</text>
<text x="1149.3" y="502.0" font-size="12" fill="#131722" stroke="#131722" stroke-width="0.28" font-weight="normal" text-anchor="start" font-family="Liberation Sans, sans-serif"  textLength="41.6" lengthAdjust="spacingAndGlyphs">−1.0000</text>
<clipPath id="ax"><rect x="1140" y="0" width="61" height="552.2"/></clipPath>
<text x="1149.3" y="555.1999999999999" font-size="12" fill="#131722" stroke="#131722" stroke-width="0.28" font-weight="normal" text-anchor="start" font-family="Liberation Sans, sans-serif" clip-path="url(#ax)" textLength="41.6" lengthAdjust="spacingAndGlyphs">−2.0000</text>
<text x="1149.3" y="667.0" font-size="12" fill="#131722" stroke="#131722" stroke-width="0.28" font-weight="normal" text-anchor="start" font-family="Liberation Sans, sans-serif"  textLength="41.6" lengthAdjust="spacingAndGlyphs">−0.5000</text>
<rect x="1141.3" y="371.3" width="48.6" height="16.6" rx="1.3" fill="#000"/>
<text x="1149.6" y="384.0" font-size="12" fill="#fff" stroke="#fff" stroke-width="0" font-weight="bold" text-anchor="start" font-family="Liberation Sans, sans-serif"  textLength="35.2" lengthAdjust="spacingAndGlyphs">1.1980</text>
<rect x="1141.2" y="589" width="48.8" height="17.2" rx="1.5" fill="#2962ff"/>
<rect x="1141.2" y="606" width="48.8" height="17.0" fill="#ff6d00"/>
<rect x="1141.2" y="622.8" width="48.8" height="17.2" rx="1.5" fill="#b2dfdb"/>
<text x="1149.6" y="602.0" font-size="12" fill="#fff" stroke="#fff" stroke-width="0" font-weight="bold" text-anchor="start" font-family="Liberation Sans, sans-serif"  textLength="35.2" lengthAdjust="spacingAndGlyphs">0.2041</text>
<text x="1149.6" y="619.0" font-size="12" fill="#fff" stroke="#fff" stroke-width="0" font-weight="bold" text-anchor="start" font-family="Liberation Sans, sans-serif"  textLength="35.2" lengthAdjust="spacingAndGlyphs">0.1884</text>
<text x="1149.6" y="636.0" font-size="12" fill="#131722" stroke="#131722" stroke-width="0.28" font-weight="normal" text-anchor="start" font-family="Liberation Sans, sans-serif"  textLength="35.2" lengthAdjust="spacingAndGlyphs">0.0157</text>
<rect x="1144" y="3" width="54" height="25.6" rx="4.5" fill="#fff" stroke="#e6e8f0" stroke-width="1"/>
<text x="1153.6" y="20.0" font-size="12.5" fill="#131722" stroke="#131722" stroke-width="0.28" font-weight="normal" text-anchor="start" font-family="Liberation Sans, sans-serif"  textLength="31.8" lengthAdjust="spacingAndGlyphs">USDT</text>
<text x="68" y="704" font-size="12" fill="#131722" stroke="#131722" stroke-width="0" font-weight="bold" text-anchor="middle" font-family="Liberation Sans, sans-serif"  textLength="27.0" lengthAdjust="spacingAndGlyphs">2021</text>
<text x="159" y="704" font-size="12" fill="#131722" stroke="#131722" stroke-width="0.28" font-weight="normal" text-anchor="middle" font-family="Liberation Sans, sans-serif"  textLength="18.6" lengthAdjust="spacingAndGlyphs">Jun</text>
<text x="287" y="704" font-size="12" fill="#131722" stroke="#131722" stroke-width="0" font-weight="bold" text-anchor="middle" font-family="Liberation Sans, sans-serif"  textLength="27.0" lengthAdjust="spacingAndGlyphs">2022</text>
<text x="377" y="704" font-size="12" fill="#131722" stroke="#131722" stroke-width="0.28" font-weight="normal" text-anchor="middle" font-family="Liberation Sans, sans-serif"  textLength="18.6" lengthAdjust="spacingAndGlyphs">Jun</text>
<text x="505" y="704" font-size="12" fill="#131722" stroke="#131722" stroke-width="0" font-weight="bold" text-anchor="middle" font-family="Liberation Sans, sans-serif"  textLength="27.0" lengthAdjust="spacingAndGlyphs">2023</text>
<text x="596" y="704" font-size="12" fill="#131722" stroke="#131722" stroke-width="0.28" font-weight="normal" text-anchor="middle" font-family="Liberation Sans, sans-serif"  textLength="18.6" lengthAdjust="spacingAndGlyphs">Jun</text>
<text x="724" y="704" font-size="12" fill="#131722" stroke="#131722" stroke-width="0" font-weight="bold" text-anchor="middle" font-family="Liberation Sans, sans-serif"  textLength="27.0" lengthAdjust="spacingAndGlyphs">2024</text>
<text x="815" y="704" font-size="12" fill="#131722" stroke="#131722" stroke-width="0.28" font-weight="normal" text-anchor="middle" font-family="Liberation Sans, sans-serif"  textLength="18.6" lengthAdjust="spacingAndGlyphs">Jun</text>
<text x="943" y="704" font-size="12" fill="#131722" stroke="#131722" stroke-width="0" font-weight="bold" text-anchor="middle" font-family="Liberation Sans, sans-serif"  textLength="27.0" lengthAdjust="spacingAndGlyphs">2025</text>
<text x="1034" y="704" font-size="12" fill="#131722" stroke="#131722" stroke-width="0.28" font-weight="normal" text-anchor="middle" font-family="Liberation Sans, sans-serif"  textLength="18.6" lengthAdjust="spacingAndGlyphs">Jun</text>
<g transform="translate(10.3,723.95) scale(0.553)" fill="#1c202b"><path d="M14 22H7V11H0V4h14v18zM28 22h-8l7.5-18h8L28 22z"/><circle cx="20" cy="8" r="4"/></g>
<text x="33.8" y="735.8" font-size="12.6" fill="#1c202b" stroke="#1c202b" stroke-width="0.28" font-weight="normal" text-anchor="start" font-family="Liberation Sans, sans-serif"  textLength="69.8" lengthAdjust="spacingAndGlyphs">TradingView</text></svg>
</body></html>
